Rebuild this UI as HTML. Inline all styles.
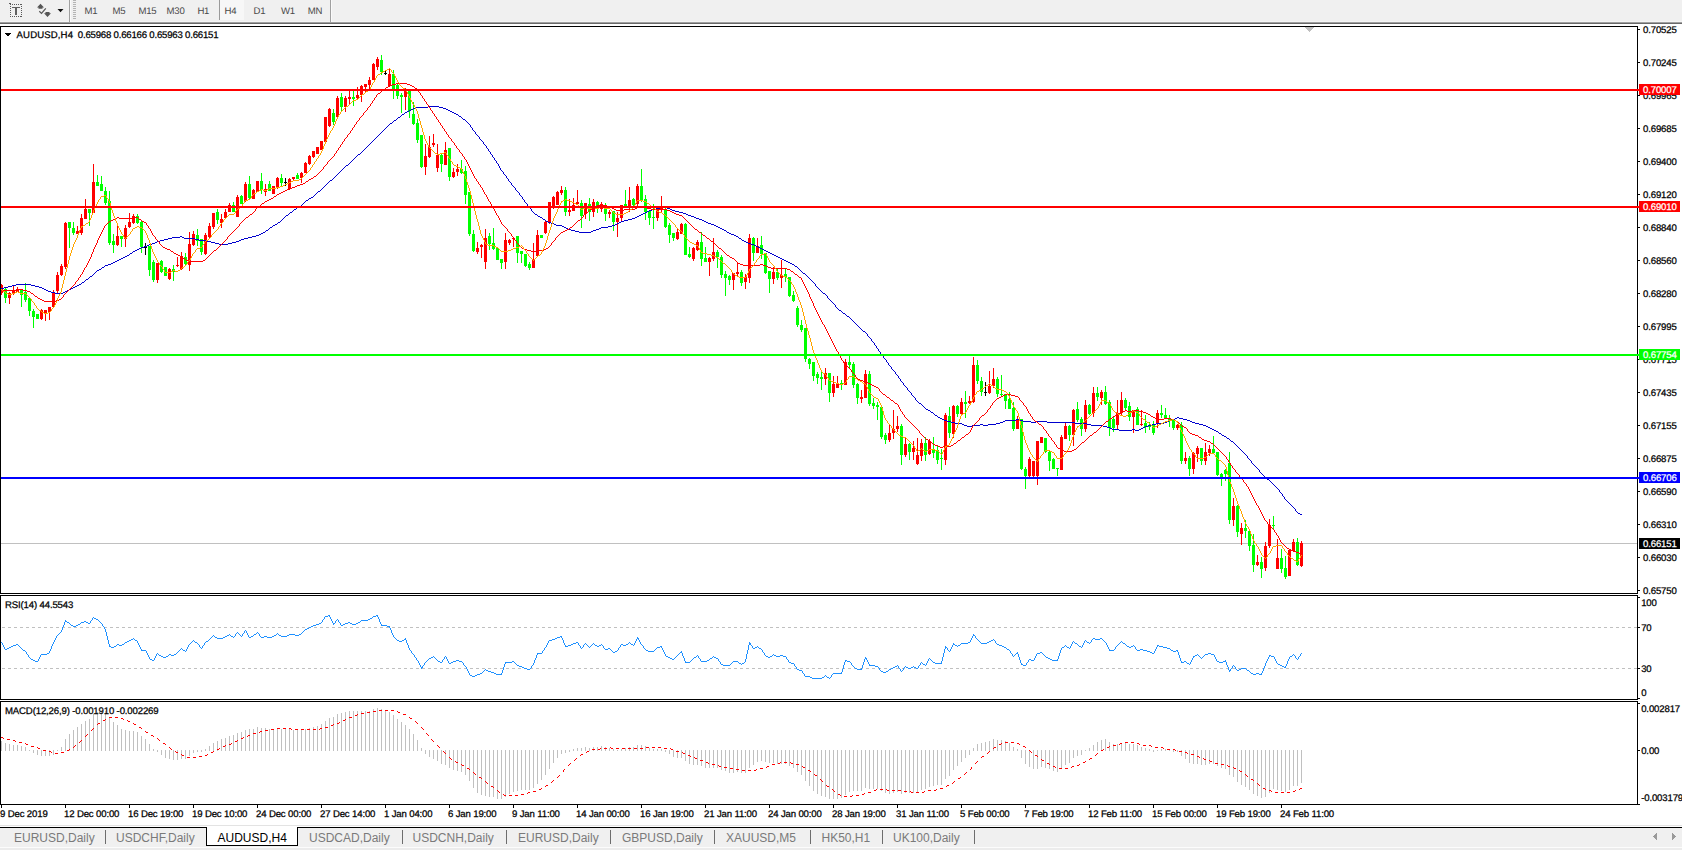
<!DOCTYPE html>
<html><head><meta charset="utf-8"><title>AUDUSD,H4</title>
<style>
html,body{margin:0;padding:0;background:#fff;overflow:hidden}
body{width:1682px;height:850px;position:relative;font-family:"Liberation Sans",sans-serif}
svg{position:absolute;left:0;top:0;font-family:"Liberation Sans",sans-serif}
svg rect,svg polygon{shape-rendering:crispEdges}
text.c{text-rendering:geometricPrecision;stroke-width:0.25px}
</style></head><body>
<svg width="1682" height="850" viewBox="0 0 1682 850">
<rect x="0" y="0" width="1682" height="850" fill="#fff"/>
<!-- toolbar -->
<rect x="0" y="0" width="1682" height="22" fill="#f0f0f0"/>
<rect x="0" y="21" width="1682" height="1" fill="#f5f5f5"/>
<rect x="0" y="22" width="1682" height="1" fill="#a0a0a0"/>
<rect x="0" y="23" width="1682" height="1" fill="#696969"/>
<rect x="220" y="0" width="24" height="20" fill="#f7f7f7"/>
<rect x="219" y="0" width="1" height="20" fill="#9a9a9a"/>
<rect x="69" y="0" width="1" height="22" fill="#a0a0a0"/><rect x="70" y="0" width="1" height="22" fill="#fafafa"/>
<rect x="330" y="0" width="1" height="22" fill="#a0a0a0"/><rect x="331" y="0" width="1" height="22" fill="#fafafa"/>
<g fill="#b4b4b4"><rect x="73" y="0" width="3" height="1"/><rect x="73" y="2" width="3" height="1"/><rect x="73" y="4" width="3" height="1"/><rect x="73" y="6" width="3" height="1"/><rect x="73" y="8" width="3" height="1"/><rect x="73" y="10" width="3" height="1"/><rect x="73" y="12" width="3" height="1"/><rect x="73" y="14" width="3" height="1"/><rect x="73" y="16" width="3" height="1"/><rect x="73" y="18" width="3" height="1"/></g>
<!-- T icon -->
<g fill="#5a5a5a"><rect x="10" y="4" width="1" height="1"/><rect x="10" y="16" width="1" height="1"/><rect x="12" y="4" width="1" height="1"/><rect x="12" y="16" width="1" height="1"/><rect x="14" y="4" width="1" height="1"/><rect x="14" y="16" width="1" height="1"/><rect x="16" y="4" width="1" height="1"/><rect x="16" y="16" width="1" height="1"/><rect x="18" y="4" width="1" height="1"/><rect x="18" y="16" width="1" height="1"/><rect x="20" y="4" width="1" height="1"/><rect x="20" y="16" width="1" height="1"/><rect x="21" y="4" width="1" height="1"/><rect x="21" y="16" width="1" height="1"/><rect x="10" y="6" width="1" height="1"/><rect x="21" y="6" width="1" height="1"/><rect x="10" y="8" width="1" height="1"/><rect x="21" y="8" width="1" height="1"/><rect x="10" y="10" width="1" height="1"/><rect x="21" y="10" width="1" height="1"/><rect x="10" y="12" width="1" height="1"/><rect x="21" y="12" width="1" height="1"/><rect x="10" y="14" width="1" height="1"/><rect x="21" y="14" width="1" height="1"/><rect x="9" y="3" width="2" height="1"/></g>
<rect x="12" y="7" width="8" height="1" fill="#606060"/><rect x="15" y="7" width="2" height="8" fill="#606060"/>
<!-- arrows icon -->
<polygon points="40.5,3.8 44,7.4 42.5,7.4 42.5,8.7 38.5,8.7 38.5,7.4 37,7.4" fill="#555" style="shape-rendering:auto"/>
<polygon points="47.5,16.9 51,13.2 49.5,13.2 49.5,12 45.5,12 45.5,13.2 44,13.2" fill="#555" style="shape-rendering:auto"/>
<polyline points="39.3,11.3 41.5,13.4 45.8,8.3" fill="none" stroke="#555" stroke-width="1.2"/>
<polygon points="57.5,9 63.5,9 60.5,12.2" fill="#111" style="shape-rendering:auto"/>
<text x="84.4" y="14" fill="#4a4a4a" font-size="9.6" letter-spacing="-0.25" style="text-rendering:geometricPrecision">M1</text>
<text x="112.4" y="14" fill="#4a4a4a" font-size="9.6" letter-spacing="-0.25" style="text-rendering:geometricPrecision">M5</text>
<text x="138.5" y="14" fill="#4a4a4a" font-size="9.6" letter-spacing="-0.25" style="text-rendering:geometricPrecision">M15</text>
<text x="166.6" y="14" fill="#4a4a4a" font-size="9.6" letter-spacing="-0.25" style="text-rendering:geometricPrecision">M30</text>
<text x="197.4" y="14" fill="#4a4a4a" font-size="9.6" letter-spacing="-0.25" style="text-rendering:geometricPrecision">H1</text>
<text x="224.5" y="14" fill="#4a4a4a" font-size="9.6" letter-spacing="-0.25" style="text-rendering:geometricPrecision">H4</text>
<text x="253.6" y="14" fill="#4a4a4a" font-size="9.6" letter-spacing="-0.25" style="text-rendering:geometricPrecision">D1</text>
<text x="281" y="14" fill="#4a4a4a" font-size="9.6" letter-spacing="-0.25" style="text-rendering:geometricPrecision">W1</text>
<text x="307.7" y="14" fill="#4a4a4a" font-size="9.6" letter-spacing="-0.25" style="text-rendering:geometricPrecision">MN</text>
<!-- chart -->
<rect x="1" y="543" width="1636" height="1" fill="#c0c0c0"/>
<g><rect x="1" y="284" width="1" height="11" fill="#ff0000"/><rect x="0" y="285" width="3" height="8" fill="#ff0000"/><rect x="5" y="288" width="1" height="15" fill="#00ff00"/><rect x="4" y="289" width="3" height="9" fill="#00ff00"/><rect x="9" y="292" width="1" height="12" fill="#ff0000"/><rect x="8" y="293" width="3" height="5" fill="#ff0000"/><rect x="13" y="285" width="1" height="10" fill="#ff0000"/><rect x="12" y="290" width="3" height="3" fill="#ff0000"/><rect x="17" y="287" width="1" height="5" fill="#ff0000"/><rect x="16" y="289" width="3" height="3" fill="#ff0000"/><rect x="21" y="289" width="1" height="18" fill="#00ff00"/><rect x="20" y="289" width="3" height="6" fill="#00ff00"/><rect x="25" y="283" width="1" height="19" fill="#00ff00"/><rect x="24" y="292" width="3" height="8" fill="#00ff00"/><rect x="29" y="297" width="1" height="19" fill="#00ff00"/><rect x="28" y="298" width="3" height="13" fill="#00ff00"/><rect x="33" y="309" width="1" height="19" fill="#00ff00"/><rect x="32" y="311" width="3" height="6" fill="#00ff00"/><rect x="37" y="314" width="1" height="5" fill="#00ff00"/><rect x="36" y="314" width="3" height="5" fill="#00ff00"/><rect x="41" y="309" width="1" height="11" fill="#ff0000"/><rect x="40" y="310" width="3" height="9" fill="#ff0000"/><rect x="45" y="310" width="1" height="11" fill="#ff0000"/><rect x="44" y="310" width="3" height="3" fill="#ff0000"/><rect x="49" y="307" width="1" height="13" fill="#ff0000"/><rect x="48" y="307" width="3" height="5" fill="#ff0000"/><rect x="53" y="290" width="1" height="17" fill="#ff0000"/><rect x="52" y="292" width="3" height="15" fill="#ff0000"/><rect x="57" y="272" width="1" height="21" fill="#ff0000"/><rect x="56" y="275" width="3" height="16" fill="#ff0000"/><rect x="61" y="264" width="1" height="12" fill="#ff0000"/><rect x="60" y="266" width="3" height="9" fill="#ff0000"/><rect x="65" y="222" width="1" height="47" fill="#ff0000"/><rect x="64" y="223" width="3" height="44" fill="#ff0000"/><rect x="69" y="222" width="1" height="26" fill="#00ff00"/><rect x="68" y="222" width="3" height="6" fill="#00ff00"/><rect x="73" y="222" width="1" height="13" fill="#00ff00"/><rect x="72" y="228" width="3" height="5" fill="#00ff00"/><rect x="77" y="226" width="1" height="8" fill="#ff0000"/><rect x="76" y="231" width="3" height="3" fill="#ff0000"/><rect x="81" y="214" width="1" height="21" fill="#ff0000"/><rect x="80" y="218" width="3" height="15" fill="#ff0000"/><rect x="85" y="199" width="1" height="20" fill="#ff0000"/><rect x="84" y="209" width="3" height="10" fill="#ff0000"/><rect x="89" y="209" width="1" height="17" fill="#00ff00"/><rect x="88" y="209" width="3" height="4" fill="#00ff00"/><rect x="93" y="164" width="1" height="49" fill="#ff0000"/><rect x="92" y="182" width="3" height="31" fill="#ff0000"/><rect x="97" y="175" width="1" height="11" fill="#00ff00"/><rect x="96" y="182" width="3" height="4" fill="#00ff00"/><rect x="101" y="176" width="1" height="15" fill="#00ff00"/><rect x="100" y="184" width="3" height="7" fill="#00ff00"/><rect x="105" y="187" width="1" height="18" fill="#00ff00"/><rect x="104" y="191" width="3" height="12" fill="#00ff00"/><rect x="109" y="191" width="1" height="54" fill="#00ff00"/><rect x="108" y="201" width="3" height="42" fill="#00ff00"/><rect x="113" y="234" width="1" height="19" fill="#00ff00"/><rect x="112" y="241" width="3" height="4" fill="#00ff00"/><rect x="117" y="226" width="1" height="20" fill="#ff0000"/><rect x="116" y="236" width="3" height="9" fill="#ff0000"/><rect x="121" y="236" width="1" height="11" fill="#00ff00"/><rect x="120" y="236" width="3" height="3" fill="#00ff00"/><rect x="125" y="225" width="1" height="22" fill="#ff0000"/><rect x="124" y="228" width="3" height="11" fill="#ff0000"/><rect x="129" y="213" width="1" height="15" fill="#ff0000"/><rect x="128" y="222" width="3" height="5" fill="#ff0000"/><rect x="133" y="214" width="1" height="10" fill="#ff0000"/><rect x="132" y="216" width="3" height="7" fill="#ff0000"/><rect x="137" y="214" width="1" height="10" fill="#00ff00"/><rect x="136" y="216" width="3" height="7" fill="#00ff00"/><rect x="141" y="220" width="1" height="33" fill="#00ff00"/><rect x="140" y="222" width="3" height="25" fill="#00ff00"/><rect x="145" y="243" width="1" height="12" fill="#000"/><rect x="144" y="247" width="3" height="1" fill="#000"/><rect x="149" y="246" width="1" height="30" fill="#00ff00"/><rect x="148" y="246" width="3" height="24" fill="#00ff00"/><rect x="153" y="260" width="1" height="22" fill="#00ff00"/><rect x="152" y="262" width="3" height="18" fill="#00ff00"/><rect x="157" y="263" width="1" height="20" fill="#ff0000"/><rect x="156" y="263" width="3" height="17" fill="#ff0000"/><rect x="161" y="260" width="1" height="13" fill="#00ff00"/><rect x="160" y="261" width="3" height="11" fill="#00ff00"/><rect x="165" y="267" width="1" height="9" fill="#00ff00"/><rect x="164" y="267" width="3" height="9" fill="#00ff00"/><rect x="169" y="268" width="1" height="12" fill="#ff0000"/><rect x="168" y="269" width="3" height="10" fill="#ff0000"/><rect x="173" y="265" width="1" height="16" fill="#00ff00"/><rect x="172" y="269" width="3" height="3" fill="#00ff00"/><rect x="177" y="257" width="1" height="10" fill="#ff0000"/><rect x="176" y="265" width="3" height="1" fill="#ff0000"/><rect x="181" y="252" width="1" height="18" fill="#ff0000"/><rect x="180" y="256" width="3" height="13" fill="#ff0000"/><rect x="185" y="253" width="1" height="13" fill="#00ff00"/><rect x="184" y="257" width="3" height="7" fill="#00ff00"/><rect x="189" y="232" width="1" height="39" fill="#ff0000"/><rect x="188" y="244" width="3" height="21" fill="#ff0000"/><rect x="193" y="231" width="1" height="15" fill="#ff0000"/><rect x="192" y="234" width="3" height="11" fill="#ff0000"/><rect x="197" y="229" width="1" height="17" fill="#00ff00"/><rect x="196" y="235" width="3" height="6" fill="#00ff00"/><rect x="201" y="239" width="1" height="16" fill="#00ff00"/><rect x="200" y="239" width="3" height="13" fill="#00ff00"/><rect x="205" y="233" width="1" height="22" fill="#ff0000"/><rect x="204" y="235" width="3" height="19" fill="#ff0000"/><rect x="209" y="223" width="1" height="15" fill="#ff0000"/><rect x="208" y="226" width="3" height="11" fill="#ff0000"/><rect x="213" y="213" width="1" height="16" fill="#ff0000"/><rect x="212" y="213" width="3" height="14" fill="#ff0000"/><rect x="217" y="209" width="1" height="15" fill="#00ff00"/><rect x="216" y="212" width="3" height="8" fill="#00ff00"/><rect x="221" y="214" width="1" height="14" fill="#ff0000"/><rect x="220" y="219" width="3" height="4" fill="#ff0000"/><rect x="225" y="209" width="1" height="10" fill="#ff0000"/><rect x="224" y="212" width="3" height="6" fill="#ff0000"/><rect x="229" y="203" width="1" height="9" fill="#ff0000"/><rect x="228" y="205" width="3" height="7" fill="#ff0000"/><rect x="233" y="202" width="1" height="10" fill="#00ff00"/><rect x="232" y="205" width="3" height="7" fill="#00ff00"/><rect x="237" y="195" width="1" height="22" fill="#ff0000"/><rect x="236" y="197" width="3" height="20" fill="#ff0000"/><rect x="241" y="195" width="1" height="9" fill="#00ff00"/><rect x="240" y="196" width="3" height="8" fill="#00ff00"/><rect x="245" y="182" width="1" height="20" fill="#ff0000"/><rect x="244" y="184" width="3" height="17" fill="#ff0000"/><rect x="249" y="176" width="1" height="24" fill="#00ff00"/><rect x="248" y="184" width="3" height="14" fill="#00ff00"/><rect x="253" y="189" width="1" height="10" fill="#ff0000"/><rect x="252" y="190" width="3" height="9" fill="#ff0000"/><rect x="257" y="181" width="1" height="11" fill="#ff0000"/><rect x="256" y="181" width="3" height="11" fill="#ff0000"/><rect x="261" y="173" width="1" height="21" fill="#00ff00"/><rect x="260" y="181" width="3" height="9" fill="#00ff00"/><rect x="265" y="184" width="1" height="12" fill="#ff0000"/><rect x="264" y="189" width="3" height="3" fill="#ff0000"/><rect x="269" y="181" width="1" height="10" fill="#00ff00"/><rect x="268" y="184" width="3" height="7" fill="#00ff00"/><rect x="273" y="186" width="1" height="8" fill="#ff0000"/><rect x="272" y="186" width="3" height="8" fill="#ff0000"/><rect x="277" y="177" width="1" height="12" fill="#ff0000"/><rect x="276" y="178" width="3" height="10" fill="#ff0000"/><rect x="281" y="174" width="1" height="12" fill="#00ff00"/><rect x="280" y="178" width="3" height="5" fill="#00ff00"/><rect x="285" y="178" width="1" height="8" fill="#000"/><rect x="284" y="182" width="3" height="1" fill="#000"/><rect x="289" y="178" width="1" height="12" fill="#ff0000"/><rect x="288" y="179" width="3" height="10" fill="#ff0000"/><rect x="293" y="177" width="1" height="4" fill="#ff0000"/><rect x="292" y="177" width="3" height="2" fill="#ff0000"/><rect x="297" y="173" width="1" height="6" fill="#00ff00"/><rect x="296" y="175" width="3" height="4" fill="#00ff00"/><rect x="301" y="172" width="1" height="11" fill="#ff0000"/><rect x="300" y="173" width="3" height="5" fill="#ff0000"/><rect x="305" y="162" width="1" height="11" fill="#ff0000"/><rect x="304" y="163" width="3" height="10" fill="#ff0000"/><rect x="309" y="155" width="1" height="10" fill="#ff0000"/><rect x="308" y="156" width="3" height="8" fill="#ff0000"/><rect x="313" y="151" width="1" height="7" fill="#ff0000"/><rect x="312" y="151" width="3" height="6" fill="#ff0000"/><rect x="317" y="147" width="1" height="7" fill="#ff0000"/><rect x="316" y="147" width="3" height="7" fill="#ff0000"/><rect x="321" y="141" width="1" height="9" fill="#ff0000"/><rect x="320" y="141" width="3" height="9" fill="#ff0000"/><rect x="325" y="117" width="1" height="25" fill="#ff0000"/><rect x="324" y="117" width="3" height="25" fill="#ff0000"/><rect x="329" y="108" width="1" height="19" fill="#ff0000"/><rect x="328" y="109" width="3" height="17" fill="#ff0000"/><rect x="333" y="109" width="1" height="16" fill="#00ff00"/><rect x="332" y="113" width="3" height="9" fill="#00ff00"/><rect x="337" y="96" width="1" height="22" fill="#ff0000"/><rect x="336" y="98" width="3" height="19" fill="#ff0000"/><rect x="341" y="93" width="1" height="19" fill="#00ff00"/><rect x="340" y="97" width="3" height="10" fill="#00ff00"/><rect x="345" y="96" width="1" height="16" fill="#ff0000"/><rect x="344" y="98" width="3" height="9" fill="#ff0000"/><rect x="349" y="90" width="1" height="14" fill="#ff0000"/><rect x="348" y="97" width="3" height="2" fill="#ff0000"/><rect x="353" y="91" width="1" height="15" fill="#00ff00"/><rect x="352" y="97" width="3" height="2" fill="#00ff00"/><rect x="357" y="87" width="1" height="13" fill="#ff0000"/><rect x="356" y="95" width="3" height="3" fill="#ff0000"/><rect x="361" y="85" width="1" height="17" fill="#ff0000"/><rect x="360" y="86" width="3" height="9" fill="#ff0000"/><rect x="365" y="84" width="1" height="8" fill="#ff0000"/><rect x="364" y="84" width="3" height="3" fill="#ff0000"/><rect x="369" y="77" width="1" height="12" fill="#ff0000"/><rect x="368" y="80" width="3" height="5" fill="#ff0000"/><rect x="373" y="63" width="1" height="17" fill="#ff0000"/><rect x="372" y="64" width="3" height="16" fill="#ff0000"/><rect x="377" y="57" width="1" height="13" fill="#ff0000"/><rect x="376" y="59" width="3" height="8" fill="#ff0000"/><rect x="381" y="55" width="1" height="20" fill="#00ff00"/><rect x="380" y="60" width="3" height="12" fill="#00ff00"/><rect x="385" y="70" width="1" height="5" fill="#000"/><rect x="384" y="73" width="3" height="1" fill="#000"/><rect x="389" y="69" width="1" height="18" fill="#ff0000"/><rect x="388" y="74" width="3" height="12" fill="#ff0000"/><rect x="393" y="70" width="1" height="29" fill="#00ff00"/><rect x="392" y="74" width="3" height="15" fill="#00ff00"/><rect x="397" y="84" width="1" height="15" fill="#00ff00"/><rect x="396" y="85" width="3" height="11" fill="#00ff00"/><rect x="401" y="93" width="1" height="20" fill="#00ff00"/><rect x="400" y="95" width="3" height="2" fill="#00ff00"/><rect x="405" y="88" width="1" height="22" fill="#ff0000"/><rect x="404" y="90" width="3" height="7" fill="#ff0000"/><rect x="409" y="89" width="1" height="29" fill="#00ff00"/><rect x="408" y="91" width="3" height="20" fill="#00ff00"/><rect x="413" y="102" width="1" height="23" fill="#00ff00"/><rect x="412" y="114" width="3" height="10" fill="#00ff00"/><rect x="417" y="119" width="1" height="24" fill="#00ff00"/><rect x="416" y="123" width="3" height="17" fill="#00ff00"/><rect x="421" y="135" width="1" height="33" fill="#00ff00"/><rect x="420" y="135" width="3" height="32" fill="#00ff00"/><rect x="425" y="144" width="1" height="31" fill="#ff0000"/><rect x="424" y="156" width="3" height="11" fill="#ff0000"/><rect x="429" y="136" width="1" height="22" fill="#ff0000"/><rect x="428" y="147" width="3" height="10" fill="#ff0000"/><rect x="433" y="134" width="1" height="13" fill="#ff0000"/><rect x="432" y="143" width="3" height="2" fill="#ff0000"/><rect x="437" y="144" width="1" height="28" fill="#ff0000"/><rect x="436" y="155" width="3" height="13" fill="#ff0000"/><rect x="441" y="153" width="1" height="19" fill="#00ff00"/><rect x="440" y="155" width="3" height="9" fill="#00ff00"/><rect x="445" y="142" width="1" height="23" fill="#ff0000"/><rect x="444" y="150" width="3" height="15" fill="#ff0000"/><rect x="449" y="148" width="1" height="33" fill="#00ff00"/><rect x="448" y="148" width="3" height="29" fill="#00ff00"/><rect x="453" y="168" width="1" height="10" fill="#ff0000"/><rect x="452" y="172" width="3" height="5" fill="#ff0000"/><rect x="457" y="164" width="1" height="12" fill="#ff0000"/><rect x="456" y="169" width="3" height="3" fill="#ff0000"/><rect x="461" y="160" width="1" height="14" fill="#00ff00"/><rect x="460" y="169" width="3" height="4" fill="#00ff00"/><rect x="465" y="166" width="1" height="38" fill="#00ff00"/><rect x="464" y="171" width="3" height="24" fill="#00ff00"/><rect x="469" y="192" width="1" height="44" fill="#00ff00"/><rect x="468" y="192" width="3" height="42" fill="#00ff00"/><rect x="473" y="230" width="1" height="22" fill="#00ff00"/><rect x="472" y="234" width="3" height="17" fill="#00ff00"/><rect x="477" y="242" width="1" height="12" fill="#ff0000"/><rect x="476" y="248" width="3" height="4" fill="#ff0000"/><rect x="481" y="244" width="1" height="14" fill="#ff0000"/><rect x="480" y="245" width="3" height="2" fill="#ff0000"/><rect x="485" y="229" width="1" height="40" fill="#ff0000"/><rect x="484" y="238" width="3" height="24" fill="#ff0000"/><rect x="489" y="233" width="1" height="17" fill="#00ff00"/><rect x="488" y="236" width="3" height="8" fill="#00ff00"/><rect x="493" y="228" width="1" height="22" fill="#00ff00"/><rect x="492" y="243" width="3" height="6" fill="#00ff00"/><rect x="497" y="247" width="1" height="13" fill="#00ff00"/><rect x="496" y="248" width="3" height="12" fill="#00ff00"/><rect x="501" y="259" width="1" height="10" fill="#00ff00"/><rect x="500" y="259" width="3" height="4" fill="#00ff00"/><rect x="505" y="233" width="1" height="36" fill="#ff0000"/><rect x="504" y="240" width="3" height="22" fill="#ff0000"/><rect x="509" y="239" width="1" height="6" fill="#ff0000"/><rect x="508" y="240" width="3" height="3" fill="#ff0000"/><rect x="513" y="237" width="1" height="10" fill="#ff0000"/><rect x="512" y="238" width="3" height="1" fill="#ff0000"/><rect x="517" y="236" width="1" height="27" fill="#00ff00"/><rect x="516" y="236" width="3" height="17" fill="#00ff00"/><rect x="521" y="251" width="1" height="12" fill="#00ff00"/><rect x="520" y="251" width="3" height="3" fill="#00ff00"/><rect x="525" y="254" width="1" height="13" fill="#00ff00"/><rect x="524" y="254" width="3" height="12" fill="#00ff00"/><rect x="529" y="262" width="1" height="8" fill="#00ff00"/><rect x="528" y="264" width="3" height="4" fill="#00ff00"/><rect x="533" y="243" width="1" height="25" fill="#ff0000"/><rect x="532" y="259" width="3" height="9" fill="#ff0000"/><rect x="537" y="230" width="1" height="26" fill="#ff0000"/><rect x="536" y="235" width="3" height="21" fill="#ff0000"/><rect x="541" y="235" width="1" height="3" fill="#00ff00"/><rect x="540" y="235" width="3" height="3" fill="#00ff00"/><rect x="545" y="221" width="1" height="13" fill="#ff0000"/><rect x="544" y="222" width="3" height="11" fill="#ff0000"/><rect x="549" y="202" width="1" height="22" fill="#ff0000"/><rect x="548" y="202" width="3" height="20" fill="#ff0000"/><rect x="553" y="196" width="1" height="13" fill="#ff0000"/><rect x="552" y="197" width="3" height="11" fill="#ff0000"/><rect x="557" y="191" width="1" height="14" fill="#ff0000"/><rect x="556" y="192" width="3" height="13" fill="#ff0000"/><rect x="561" y="186" width="1" height="9" fill="#ff0000"/><rect x="560" y="190" width="3" height="3" fill="#ff0000"/><rect x="565" y="187" width="1" height="29" fill="#00ff00"/><rect x="564" y="190" width="3" height="22" fill="#00ff00"/><rect x="569" y="199" width="1" height="17" fill="#ff0000"/><rect x="568" y="210" width="3" height="2" fill="#ff0000"/><rect x="573" y="198" width="1" height="13" fill="#ff0000"/><rect x="572" y="205" width="3" height="6" fill="#ff0000"/><rect x="577" y="190" width="1" height="14" fill="#ff0000"/><rect x="576" y="202" width="3" height="2" fill="#ff0000"/><rect x="581" y="200" width="1" height="28" fill="#00ff00"/><rect x="580" y="203" width="3" height="13" fill="#00ff00"/><rect x="585" y="203" width="1" height="16" fill="#ff0000"/><rect x="584" y="203" width="3" height="11" fill="#ff0000"/><rect x="589" y="198" width="1" height="23" fill="#00ff00"/><rect x="588" y="204" width="3" height="8" fill="#00ff00"/><rect x="593" y="199" width="1" height="18" fill="#ff0000"/><rect x="592" y="202" width="3" height="10" fill="#ff0000"/><rect x="597" y="201" width="1" height="12" fill="#00ff00"/><rect x="596" y="202" width="3" height="7" fill="#00ff00"/><rect x="601" y="202" width="1" height="10" fill="#ff0000"/><rect x="600" y="204" width="3" height="5" fill="#ff0000"/><rect x="605" y="203" width="1" height="18" fill="#00ff00"/><rect x="604" y="205" width="3" height="9" fill="#00ff00"/><rect x="609" y="210" width="1" height="8" fill="#ff0000"/><rect x="608" y="212" width="3" height="2" fill="#ff0000"/><rect x="613" y="211" width="1" height="20" fill="#00ff00"/><rect x="612" y="211" width="3" height="11" fill="#00ff00"/><rect x="617" y="212" width="1" height="25" fill="#ff0000"/><rect x="616" y="218" width="3" height="4" fill="#ff0000"/><rect x="621" y="205" width="1" height="16" fill="#ff0000"/><rect x="620" y="205" width="3" height="13" fill="#ff0000"/><rect x="625" y="190" width="1" height="18" fill="#00ff00"/><rect x="624" y="204" width="3" height="2" fill="#00ff00"/><rect x="629" y="187" width="1" height="25" fill="#ff0000"/><rect x="628" y="200" width="3" height="7" fill="#ff0000"/><rect x="633" y="198" width="1" height="8" fill="#00ff00"/><rect x="632" y="199" width="3" height="6" fill="#00ff00"/><rect x="637" y="184" width="1" height="22" fill="#ff0000"/><rect x="636" y="186" width="3" height="18" fill="#ff0000"/><rect x="641" y="169" width="1" height="33" fill="#00ff00"/><rect x="640" y="186" width="3" height="15" fill="#00ff00"/><rect x="645" y="195" width="1" height="25" fill="#00ff00"/><rect x="644" y="199" width="3" height="13" fill="#00ff00"/><rect x="649" y="211" width="1" height="14" fill="#00ff00"/><rect x="648" y="211" width="3" height="7" fill="#00ff00"/><rect x="653" y="204" width="1" height="25" fill="#00ff00"/><rect x="652" y="217" width="3" height="1" fill="#00ff00"/><rect x="657" y="206" width="1" height="15" fill="#ff0000"/><rect x="656" y="208" width="3" height="10" fill="#ff0000"/><rect x="661" y="196" width="1" height="16" fill="#ff0000"/><rect x="660" y="207" width="3" height="3" fill="#ff0000"/><rect x="665" y="208" width="1" height="20" fill="#00ff00"/><rect x="664" y="209" width="3" height="18" fill="#00ff00"/><rect x="669" y="223" width="1" height="20" fill="#00ff00"/><rect x="668" y="225" width="3" height="10" fill="#00ff00"/><rect x="673" y="233" width="1" height="8" fill="#00ff00"/><rect x="672" y="233" width="3" height="5" fill="#00ff00"/><rect x="677" y="228" width="1" height="12" fill="#ff0000"/><rect x="676" y="232" width="3" height="7" fill="#ff0000"/><rect x="681" y="223" width="1" height="11" fill="#ff0000"/><rect x="680" y="224" width="3" height="10" fill="#ff0000"/><rect x="685" y="223" width="1" height="32" fill="#00ff00"/><rect x="684" y="224" width="3" height="31" fill="#00ff00"/><rect x="689" y="247" width="1" height="11" fill="#00ff00"/><rect x="688" y="254" width="3" height="3" fill="#00ff00"/><rect x="693" y="247" width="1" height="14" fill="#ff0000"/><rect x="692" y="248" width="3" height="11" fill="#ff0000"/><rect x="697" y="240" width="1" height="11" fill="#ff0000"/><rect x="696" y="242" width="3" height="8" fill="#ff0000"/><rect x="701" y="232" width="1" height="34" fill="#00ff00"/><rect x="700" y="242" width="3" height="17" fill="#00ff00"/><rect x="705" y="247" width="1" height="15" fill="#00ff00"/><rect x="704" y="258" width="3" height="4" fill="#00ff00"/><rect x="709" y="257" width="1" height="19" fill="#ff0000"/><rect x="708" y="258" width="3" height="4" fill="#ff0000"/><rect x="713" y="238" width="1" height="23" fill="#ff0000"/><rect x="712" y="252" width="3" height="7" fill="#ff0000"/><rect x="717" y="250" width="1" height="18" fill="#00ff00"/><rect x="716" y="252" width="3" height="5" fill="#00ff00"/><rect x="721" y="255" width="1" height="23" fill="#00ff00"/><rect x="720" y="257" width="3" height="18" fill="#00ff00"/><rect x="725" y="271" width="1" height="25" fill="#00ff00"/><rect x="724" y="274" width="3" height="4" fill="#00ff00"/><rect x="729" y="275" width="1" height="10" fill="#00ff00"/><rect x="728" y="276" width="3" height="4" fill="#00ff00"/><rect x="733" y="273" width="1" height="17" fill="#ff0000"/><rect x="732" y="273" width="3" height="7" fill="#ff0000"/><rect x="737" y="262" width="1" height="15" fill="#ff0000"/><rect x="736" y="272" width="3" height="2" fill="#ff0000"/><rect x="741" y="270" width="1" height="16" fill="#00ff00"/><rect x="740" y="272" width="3" height="11" fill="#00ff00"/><rect x="745" y="274" width="1" height="15" fill="#ff0000"/><rect x="744" y="277" width="3" height="5" fill="#ff0000"/><rect x="749" y="234" width="1" height="49" fill="#ff0000"/><rect x="748" y="238" width="3" height="40" fill="#ff0000"/><rect x="753" y="237" width="1" height="24" fill="#00ff00"/><rect x="752" y="238" width="3" height="15" fill="#00ff00"/><rect x="757" y="238" width="1" height="15" fill="#ff0000"/><rect x="756" y="246" width="3" height="7" fill="#ff0000"/><rect x="761" y="236" width="1" height="23" fill="#00ff00"/><rect x="760" y="245" width="3" height="9" fill="#00ff00"/><rect x="765" y="253" width="1" height="21" fill="#00ff00"/><rect x="764" y="253" width="3" height="20" fill="#00ff00"/><rect x="769" y="271" width="1" height="22" fill="#00ff00"/><rect x="768" y="271" width="3" height="8" fill="#00ff00"/><rect x="773" y="267" width="1" height="17" fill="#ff0000"/><rect x="772" y="272" width="3" height="7" fill="#ff0000"/><rect x="777" y="269" width="1" height="11" fill="#00ff00"/><rect x="776" y="272" width="3" height="6" fill="#00ff00"/><rect x="781" y="260" width="1" height="28" fill="#ff0000"/><rect x="780" y="275" width="3" height="3" fill="#ff0000"/><rect x="785" y="268" width="1" height="14" fill="#00ff00"/><rect x="784" y="274" width="3" height="3" fill="#00ff00"/><rect x="789" y="277" width="1" height="20" fill="#00ff00"/><rect x="788" y="277" width="3" height="19" fill="#00ff00"/><rect x="793" y="291" width="1" height="11" fill="#00ff00"/><rect x="792" y="295" width="3" height="6" fill="#00ff00"/><rect x="797" y="306" width="1" height="21" fill="#00ff00"/><rect x="796" y="308" width="3" height="17" fill="#00ff00"/><rect x="801" y="320" width="1" height="12" fill="#00ff00"/><rect x="800" y="325" width="3" height="5" fill="#00ff00"/><rect x="805" y="328" width="1" height="34" fill="#00ff00"/><rect x="804" y="328" width="3" height="31" fill="#00ff00"/><rect x="809" y="358" width="1" height="11" fill="#00ff00"/><rect x="808" y="359" width="3" height="5" fill="#00ff00"/><rect x="813" y="362" width="1" height="19" fill="#00ff00"/><rect x="812" y="362" width="3" height="14" fill="#00ff00"/><rect x="817" y="372" width="1" height="12" fill="#00ff00"/><rect x="816" y="374" width="3" height="4" fill="#00ff00"/><rect x="821" y="371" width="1" height="19" fill="#00ff00"/><rect x="820" y="377" width="3" height="2" fill="#00ff00"/><rect x="825" y="368" width="1" height="17" fill="#ff0000"/><rect x="824" y="373" width="3" height="6" fill="#ff0000"/><rect x="829" y="373" width="1" height="29" fill="#00ff00"/><rect x="828" y="373" width="3" height="20" fill="#00ff00"/><rect x="833" y="376" width="1" height="21" fill="#ff0000"/><rect x="832" y="384" width="3" height="9" fill="#ff0000"/><rect x="837" y="376" width="1" height="12" fill="#ff0000"/><rect x="836" y="384" width="3" height="4" fill="#ff0000"/><rect x="841" y="380" width="1" height="10" fill="#00ff00"/><rect x="840" y="383" width="3" height="2" fill="#00ff00"/><rect x="845" y="359" width="1" height="26" fill="#ff0000"/><rect x="844" y="362" width="3" height="23" fill="#ff0000"/><rect x="849" y="356" width="1" height="12" fill="#00ff00"/><rect x="848" y="362" width="3" height="3" fill="#00ff00"/><rect x="853" y="362" width="1" height="26" fill="#00ff00"/><rect x="852" y="364" width="3" height="21" fill="#00ff00"/><rect x="857" y="383" width="1" height="21" fill="#00ff00"/><rect x="856" y="384" width="3" height="14" fill="#00ff00"/><rect x="861" y="390" width="1" height="13" fill="#ff0000"/><rect x="860" y="397" width="3" height="2" fill="#ff0000"/><rect x="865" y="370" width="1" height="28" fill="#ff0000"/><rect x="864" y="374" width="3" height="24" fill="#ff0000"/><rect x="869" y="371" width="1" height="35" fill="#00ff00"/><rect x="868" y="374" width="3" height="30" fill="#00ff00"/><rect x="873" y="398" width="1" height="11" fill="#00ff00"/><rect x="872" y="403" width="3" height="3" fill="#00ff00"/><rect x="877" y="402" width="1" height="18" fill="#00ff00"/><rect x="876" y="405" width="3" height="2" fill="#00ff00"/><rect x="881" y="406" width="1" height="33" fill="#00ff00"/><rect x="880" y="407" width="3" height="30" fill="#00ff00"/><rect x="885" y="433" width="1" height="11" fill="#00ff00"/><rect x="884" y="435" width="3" height="5" fill="#00ff00"/><rect x="889" y="425" width="1" height="17" fill="#ff0000"/><rect x="888" y="433" width="3" height="7" fill="#ff0000"/><rect x="893" y="410" width="1" height="29" fill="#ff0000"/><rect x="892" y="429" width="3" height="4" fill="#ff0000"/><rect x="897" y="416" width="1" height="16" fill="#ff0000"/><rect x="896" y="426" width="3" height="3" fill="#ff0000"/><rect x="901" y="424" width="1" height="41" fill="#00ff00"/><rect x="900" y="426" width="3" height="29" fill="#00ff00"/><rect x="905" y="438" width="1" height="19" fill="#ff0000"/><rect x="904" y="444" width="3" height="11" fill="#ff0000"/><rect x="909" y="443" width="1" height="17" fill="#00ff00"/><rect x="908" y="444" width="3" height="8" fill="#00ff00"/><rect x="913" y="441" width="1" height="19" fill="#ff0000"/><rect x="912" y="448" width="3" height="4" fill="#ff0000"/><rect x="917" y="438" width="1" height="27" fill="#ff0000"/><rect x="916" y="455" width="3" height="9" fill="#ff0000"/><rect x="921" y="439" width="1" height="22" fill="#ff0000"/><rect x="920" y="443" width="3" height="13" fill="#ff0000"/><rect x="925" y="437" width="1" height="24" fill="#00ff00"/><rect x="924" y="443" width="3" height="12" fill="#00ff00"/><rect x="929" y="439" width="1" height="16" fill="#ff0000"/><rect x="928" y="441" width="3" height="13" fill="#ff0000"/><rect x="933" y="437" width="1" height="21" fill="#00ff00"/><rect x="932" y="449" width="3" height="4" fill="#00ff00"/><rect x="937" y="446" width="1" height="18" fill="#00ff00"/><rect x="936" y="450" width="3" height="10" fill="#00ff00"/><rect x="941" y="449" width="1" height="21" fill="#00ff00"/><rect x="940" y="458" width="3" height="1" fill="#00ff00"/><rect x="945" y="413" width="1" height="52" fill="#ff0000"/><rect x="944" y="415" width="3" height="45" fill="#ff0000"/><rect x="949" y="407" width="1" height="31" fill="#00ff00"/><rect x="948" y="416" width="3" height="17" fill="#00ff00"/><rect x="953" y="405" width="1" height="33" fill="#ff0000"/><rect x="952" y="406" width="3" height="28" fill="#ff0000"/><rect x="957" y="405" width="1" height="12" fill="#00ff00"/><rect x="956" y="406" width="3" height="8" fill="#00ff00"/><rect x="961" y="398" width="1" height="18" fill="#ff0000"/><rect x="960" y="402" width="3" height="12" fill="#ff0000"/><rect x="965" y="391" width="1" height="27" fill="#00ff00"/><rect x="964" y="402" width="3" height="2" fill="#00ff00"/><rect x="969" y="396" width="1" height="8" fill="#ff0000"/><rect x="968" y="401" width="3" height="2" fill="#ff0000"/><rect x="973" y="357" width="1" height="46" fill="#ff0000"/><rect x="972" y="365" width="3" height="37" fill="#ff0000"/><rect x="977" y="360" width="1" height="24" fill="#00ff00"/><rect x="976" y="365" width="3" height="16" fill="#00ff00"/><rect x="981" y="377" width="1" height="19" fill="#00ff00"/><rect x="980" y="381" width="3" height="11" fill="#00ff00"/><rect x="985" y="382" width="1" height="14" fill="#000"/><rect x="984" y="392" width="3" height="1" fill="#000"/><rect x="989" y="371" width="1" height="23" fill="#ff0000"/><rect x="988" y="386" width="3" height="7" fill="#ff0000"/><rect x="993" y="368" width="1" height="20" fill="#ff0000"/><rect x="992" y="379" width="3" height="7" fill="#ff0000"/><rect x="997" y="377" width="1" height="20" fill="#00ff00"/><rect x="996" y="379" width="3" height="15" fill="#00ff00"/><rect x="1001" y="375" width="1" height="21" fill="#00ff00"/><rect x="1000" y="394" width="3" height="1" fill="#00ff00"/><rect x="1005" y="394" width="1" height="15" fill="#00ff00"/><rect x="1004" y="394" width="3" height="7" fill="#00ff00"/><rect x="1009" y="392" width="1" height="17" fill="#00ff00"/><rect x="1008" y="399" width="3" height="10" fill="#00ff00"/><rect x="1013" y="402" width="1" height="29" fill="#00ff00"/><rect x="1012" y="408" width="3" height="21" fill="#00ff00"/><rect x="1017" y="416" width="1" height="13" fill="#ff0000"/><rect x="1016" y="420" width="3" height="9" fill="#ff0000"/><rect x="1021" y="419" width="1" height="51" fill="#00ff00"/><rect x="1020" y="419" width="3" height="50" fill="#00ff00"/><rect x="1025" y="467" width="1" height="22" fill="#00ff00"/><rect x="1024" y="469" width="3" height="7" fill="#00ff00"/><rect x="1029" y="457" width="1" height="21" fill="#ff0000"/><rect x="1028" y="459" width="3" height="17" fill="#ff0000"/><rect x="1033" y="461" width="1" height="16" fill="#ff0000"/><rect x="1032" y="461" width="3" height="15" fill="#ff0000"/><rect x="1037" y="441" width="1" height="44" fill="#ff0000"/><rect x="1036" y="441" width="3" height="35" fill="#ff0000"/><rect x="1041" y="437" width="1" height="6" fill="#ff0000"/><rect x="1040" y="437" width="3" height="6" fill="#ff0000"/><rect x="1045" y="438" width="1" height="15" fill="#00ff00"/><rect x="1044" y="438" width="3" height="14" fill="#00ff00"/><rect x="1049" y="451" width="1" height="20" fill="#00ff00"/><rect x="1048" y="452" width="3" height="9" fill="#00ff00"/><rect x="1053" y="458" width="1" height="11" fill="#00ff00"/><rect x="1052" y="459" width="3" height="10" fill="#00ff00"/><rect x="1057" y="468" width="1" height="8" fill="#00ff00"/><rect x="1056" y="468" width="3" height="1" fill="#00ff00"/><rect x="1061" y="435" width="1" height="35" fill="#ff0000"/><rect x="1060" y="437" width="3" height="33" fill="#ff0000"/><rect x="1065" y="423" width="1" height="16" fill="#ff0000"/><rect x="1064" y="426" width="3" height="13" fill="#ff0000"/><rect x="1069" y="425" width="1" height="16" fill="#00ff00"/><rect x="1068" y="426" width="3" height="9" fill="#00ff00"/><rect x="1073" y="409" width="1" height="37" fill="#ff0000"/><rect x="1072" y="410" width="3" height="25" fill="#ff0000"/><rect x="1077" y="402" width="1" height="20" fill="#00ff00"/><rect x="1076" y="409" width="3" height="11" fill="#00ff00"/><rect x="1081" y="417" width="1" height="19" fill="#00ff00"/><rect x="1080" y="419" width="3" height="10" fill="#00ff00"/><rect x="1085" y="400" width="1" height="32" fill="#ff0000"/><rect x="1084" y="405" width="3" height="24" fill="#ff0000"/><rect x="1089" y="404" width="1" height="11" fill="#00ff00"/><rect x="1088" y="405" width="3" height="9" fill="#00ff00"/><rect x="1093" y="387" width="1" height="30" fill="#ff0000"/><rect x="1092" y="393" width="3" height="20" fill="#ff0000"/><rect x="1097" y="387" width="1" height="14" fill="#00ff00"/><rect x="1096" y="393" width="3" height="4" fill="#00ff00"/><rect x="1101" y="390" width="1" height="15" fill="#ff0000"/><rect x="1100" y="392" width="3" height="6" fill="#ff0000"/><rect x="1105" y="386" width="1" height="19" fill="#00ff00"/><rect x="1104" y="392" width="3" height="12" fill="#00ff00"/><rect x="1109" y="400" width="1" height="36" fill="#00ff00"/><rect x="1108" y="402" width="3" height="26" fill="#00ff00"/><rect x="1113" y="416" width="1" height="16" fill="#00ff00"/><rect x="1112" y="419" width="3" height="9" fill="#00ff00"/><rect x="1117" y="400" width="1" height="29" fill="#ff0000"/><rect x="1116" y="413" width="3" height="12" fill="#ff0000"/><rect x="1121" y="392" width="1" height="24" fill="#ff0000"/><rect x="1120" y="400" width="3" height="13" fill="#ff0000"/><rect x="1125" y="398" width="1" height="12" fill="#00ff00"/><rect x="1124" y="400" width="3" height="8" fill="#00ff00"/><rect x="1129" y="402" width="1" height="19" fill="#00ff00"/><rect x="1128" y="406" width="3" height="11" fill="#00ff00"/><rect x="1133" y="410" width="1" height="23" fill="#ff0000"/><rect x="1132" y="410" width="3" height="7" fill="#ff0000"/><rect x="1137" y="407" width="1" height="18" fill="#00ff00"/><rect x="1136" y="409" width="3" height="16" fill="#00ff00"/><rect x="1141" y="410" width="1" height="16" fill="#ff0000"/><rect x="1140" y="424" width="3" height="1" fill="#ff0000"/><rect x="1145" y="415" width="1" height="18" fill="#00ff00"/><rect x="1144" y="423" width="3" height="4" fill="#00ff00"/><rect x="1149" y="422" width="1" height="8" fill="#00ff00"/><rect x="1148" y="426" width="3" height="1" fill="#00ff00"/><rect x="1153" y="421" width="1" height="14" fill="#00ff00"/><rect x="1152" y="425" width="3" height="8" fill="#00ff00"/><rect x="1157" y="410" width="1" height="18" fill="#ff0000"/><rect x="1156" y="413" width="3" height="10" fill="#ff0000"/><rect x="1161" y="405" width="1" height="13" fill="#00ff00"/><rect x="1160" y="413" width="3" height="2" fill="#00ff00"/><rect x="1165" y="408" width="1" height="11" fill="#00ff00"/><rect x="1164" y="415" width="3" height="3" fill="#00ff00"/><rect x="1169" y="415" width="1" height="12" fill="#00ff00"/><rect x="1168" y="419" width="3" height="2" fill="#00ff00"/><rect x="1173" y="419" width="1" height="11" fill="#00ff00"/><rect x="1172" y="419" width="3" height="9" fill="#00ff00"/><rect x="1177" y="424" width="1" height="6" fill="#ff0000"/><rect x="1176" y="425" width="3" height="3" fill="#ff0000"/><rect x="1181" y="422" width="1" height="42" fill="#00ff00"/><rect x="1180" y="425" width="3" height="36" fill="#00ff00"/><rect x="1185" y="452" width="1" height="12" fill="#ff0000"/><rect x="1184" y="458" width="3" height="3" fill="#ff0000"/><rect x="1189" y="456" width="1" height="20" fill="#00ff00"/><rect x="1188" y="458" width="3" height="11" fill="#00ff00"/><rect x="1193" y="452" width="1" height="22" fill="#ff0000"/><rect x="1192" y="453" width="3" height="16" fill="#ff0000"/><rect x="1197" y="446" width="1" height="16" fill="#ff0000"/><rect x="1196" y="448" width="3" height="6" fill="#ff0000"/><rect x="1201" y="448" width="1" height="17" fill="#00ff00"/><rect x="1200" y="448" width="3" height="13" fill="#00ff00"/><rect x="1205" y="443" width="1" height="22" fill="#ff0000"/><rect x="1204" y="452" width="3" height="9" fill="#ff0000"/><rect x="1209" y="445" width="1" height="11" fill="#ff0000"/><rect x="1208" y="449" width="3" height="4" fill="#ff0000"/><rect x="1213" y="436" width="1" height="17" fill="#00ff00"/><rect x="1212" y="449" width="3" height="4" fill="#00ff00"/><rect x="1217" y="452" width="1" height="24" fill="#00ff00"/><rect x="1216" y="452" width="3" height="23" fill="#00ff00"/><rect x="1221" y="473" width="1" height="13" fill="#00ff00"/><rect x="1220" y="474" width="3" height="3" fill="#00ff00"/><rect x="1225" y="469" width="1" height="12" fill="#00ff00"/><rect x="1224" y="470" width="3" height="4" fill="#00ff00"/><rect x="1229" y="452" width="1" height="72" fill="#00ff00"/><rect x="1228" y="463" width="3" height="57" fill="#00ff00"/><rect x="1233" y="498" width="1" height="28" fill="#ff0000"/><rect x="1232" y="506" width="3" height="14" fill="#ff0000"/><rect x="1237" y="505" width="1" height="32" fill="#00ff00"/><rect x="1236" y="506" width="3" height="26" fill="#00ff00"/><rect x="1241" y="523" width="1" height="22" fill="#ff0000"/><rect x="1240" y="528" width="3" height="6" fill="#ff0000"/><rect x="1245" y="520" width="1" height="18" fill="#00ff00"/><rect x="1244" y="528" width="3" height="3" fill="#00ff00"/><rect x="1249" y="529" width="1" height="22" fill="#00ff00"/><rect x="1248" y="531" width="3" height="15" fill="#00ff00"/><rect x="1253" y="534" width="1" height="38" fill="#00ff00"/><rect x="1252" y="545" width="3" height="20" fill="#00ff00"/><rect x="1257" y="555" width="1" height="11" fill="#ff0000"/><rect x="1256" y="562" width="3" height="3" fill="#ff0000"/><rect x="1261" y="557" width="1" height="21" fill="#00ff00"/><rect x="1260" y="562" width="3" height="7" fill="#00ff00"/><rect x="1265" y="542" width="1" height="29" fill="#ff0000"/><rect x="1264" y="546" width="3" height="22" fill="#ff0000"/><rect x="1269" y="519" width="1" height="29" fill="#ff0000"/><rect x="1268" y="525" width="3" height="21" fill="#ff0000"/><rect x="1273" y="516" width="1" height="13" fill="#00ff00"/><rect x="1272" y="525" width="3" height="1" fill="#00ff00"/><rect x="1277" y="539" width="1" height="30" fill="#ff0000"/><rect x="1276" y="558" width="3" height="11" fill="#ff0000"/><rect x="1281" y="549" width="1" height="24" fill="#00ff00"/><rect x="1280" y="558" width="3" height="11" fill="#00ff00"/><rect x="1285" y="556" width="1" height="23" fill="#00ff00"/><rect x="1284" y="568" width="3" height="9" fill="#00ff00"/><rect x="1289" y="550" width="1" height="26" fill="#ff0000"/><rect x="1288" y="550" width="3" height="26" fill="#ff0000"/><rect x="1293" y="539" width="1" height="13" fill="#ff0000"/><rect x="1292" y="542" width="3" height="9" fill="#ff0000"/><rect x="1297" y="538" width="1" height="28" fill="#00ff00"/><rect x="1296" y="542" width="3" height="23" fill="#00ff00"/><rect x="1301" y="541" width="1" height="26" fill="#ff0000"/><rect x="1300" y="543" width="3" height="23" fill="#ff0000"/></g>
<path d="M470.5 125v2M472.5 128v2M475.5 132v2M479.5 137v2M483.5 142v2M486.5 146v2M488.5 149v2M490.5 152v2M492.5 155v2M494.5 158v2M496.5 161v2M498.5 164v2M499.5 166v2M500.5 168v2M503.5 172v2M506.5 176v2M508.5 179v2M511.5 183v2M515.5 188v2M519.5 193v2M522.5 197v2M524.5 200v2M527.5 204v2M531.5 209v2M815.5 284v2M827.5 296v2M835.5 305v2M867.5 334v2M871.5 339v2M874.5 343v2M876.5 346v2M878.5 349v2M880.5 352v2M883.5 356v2M886.5 360v2M888.5 363v2M891.5 367v2M895.5 372v2M898.5 376v2M900.5 379v2M903.5 383v2M907.5 388v2M911.5 393v2M915.5 398v2M1247.5 456v2M1251.5 461v2M1259.5 470v2M1279.5 490v2M1282.5 494v2M1284.5 497v2M1295.5 509v2M428 106.5h11M416 107.5h12M439 107.5h4M413 108.5h3M443 108.5h3M411 109.5h2M446 109.5h2M409 110.5h2M448 110.5h2M407 111.5h2M450 111.5h2M405 112.5h2M452 112.5h2M404 113.5h1M454 113.5h2M402 114.5h2M456 114.5h2M401 115.5h1M458 115.5h1M400 116.5h1M459 116.5h2M398 117.5h2M461 117.5h1M397 118.5h1M462 118.5h1M396 119.5h1M463 119.5h2M394 120.5h2M465 120.5h1M393 121.5h1M466 121.5h1M392 122.5h1M467 122.5h1M390 123.5h2M468 123.5h1M389 124.5h1M469 124.5h1M388 125.5h1M387 126.5h1M386 127.5h1M471 127.5h1M385 128.5h1M384 129.5h1M383 130.5h1M473 130.5h1M382 131.5h1M474 131.5h1M381 132.5h1M380 133.5h1M379 134.5h1M476 134.5h1M378 135.5h1M477 135.5h1M377 136.5h1M478 136.5h1M376 137.5h1M375 138.5h1M374 139.5h1M480 139.5h1M373 140.5h1M481 140.5h1M372 141.5h1M482 141.5h1M371 142.5h1M370 143.5h1M369 144.5h1M484 144.5h1M368 145.5h1M485 145.5h1M367 146.5h1M366 147.5h1M365 148.5h1M487 148.5h1M364 149.5h1M363 150.5h1M362 151.5h1M489 151.5h1M361 152.5h1M360 153.5h1M358 154.5h2M491 154.5h1M357 155.5h1M356 156.5h1M355 157.5h1M493 157.5h1M354 158.5h1M353 159.5h1M352 160.5h1M495 160.5h1M351 161.5h1M350 162.5h1M349 163.5h1M497 163.5h1M348 164.5h1M346 165.5h2M345 166.5h1M344 167.5h1M343 168.5h1M342 169.5h1M341 170.5h1M501 170.5h1M340 171.5h1M502 171.5h1M339 172.5h1M338 173.5h1M337 174.5h1M504 174.5h1M336 175.5h1M505 175.5h1M335 176.5h1M334 177.5h1M333 178.5h1M507 178.5h1M332 179.5h1M330 180.5h2M329 181.5h1M509 181.5h1M328 182.5h1M510 182.5h1M327 183.5h1M326 184.5h1M325 185.5h1M512 185.5h1M324 186.5h1M513 186.5h1M323 187.5h1M514 187.5h1M322 188.5h1M321 189.5h1M320 190.5h1M516 190.5h1M318 191.5h2M517 191.5h1M317 192.5h1M518 192.5h1M316 193.5h1M315 194.5h1M314 195.5h1M520 195.5h1M313 196.5h1M521 196.5h1M311 197.5h2M309 198.5h2M308 199.5h1M523 199.5h1M306 200.5h2M305 201.5h1M304 202.5h1M525 202.5h1M303 203.5h1M526 203.5h1M302 204.5h1M301 205.5h1M299 206.5h2M528 206.5h1M297 207.5h2M529 207.5h1M660 207.5h7M296 208.5h1M530 208.5h1M656 208.5h4M667 208.5h3M294 209.5h2M652 209.5h4M670 209.5h2M293 210.5h1M649 210.5h3M672 210.5h3M292 211.5h1M532 211.5h1M647 211.5h2M675 211.5h4M290 212.5h2M533 212.5h1M645 212.5h2M679 212.5h4M289 213.5h1M534 213.5h1M643 213.5h2M683 213.5h3M288 214.5h1M535 214.5h2M641 214.5h2M686 214.5h2M286 215.5h2M537 215.5h1M639 215.5h2M688 215.5h3M285 216.5h1M538 216.5h2M637 216.5h2M691 216.5h3M284 217.5h1M540 217.5h2M635 217.5h2M694 217.5h2M283 218.5h1M542 218.5h1M632 218.5h3M696 218.5h3M282 219.5h1M543 219.5h2M628 219.5h4M699 219.5h3M281 220.5h1M545 220.5h1M624 220.5h4M702 220.5h2M280 221.5h1M546 221.5h2M621 221.5h3M704 221.5h2M278 222.5h2M548 222.5h3M619 222.5h2M706 222.5h2M277 223.5h1M551 223.5h3M617 223.5h2M708 223.5h3M275 224.5h2M554 224.5h2M615 224.5h2M711 224.5h3M273 225.5h2M556 225.5h6M612 225.5h3M714 225.5h2M272 226.5h1M562 226.5h2M608 226.5h4M716 226.5h2M270 227.5h2M564 227.5h2M601 227.5h7M718 227.5h2M269 228.5h1M566 228.5h2M599 228.5h2M720 228.5h2M268 229.5h1M568 229.5h3M596 229.5h3M722 229.5h2M266 230.5h2M571 230.5h4M593 230.5h3M724 230.5h2M265 231.5h1M575 231.5h4M591 231.5h2M726 231.5h1M263 232.5h2M579 232.5h12M727 232.5h2M261 233.5h2M729 233.5h2M259 234.5h2M731 234.5h3M256 235.5h3M734 235.5h2M180 236.5h2M252 236.5h4M736 236.5h2M172 237.5h8M182 237.5h2M248 237.5h4M738 237.5h1M168 238.5h4M184 238.5h11M244 238.5h4M739 238.5h2M164 239.5h4M195 239.5h4M241 239.5h3M741 239.5h1M160 240.5h4M199 240.5h8M239 240.5h2M742 240.5h2M157 241.5h3M207 241.5h4M236 241.5h3M744 241.5h2M155 242.5h2M211 242.5h4M232 242.5h4M746 242.5h2M152 243.5h3M215 243.5h4M228 243.5h4M748 243.5h3M149 244.5h3M219 244.5h9M751 244.5h3M147 245.5h2M754 245.5h2M144 246.5h3M756 246.5h2M141 247.5h3M758 247.5h2M139 248.5h2M760 248.5h2M137 249.5h2M762 249.5h2M135 250.5h2M764 250.5h2M133 251.5h2M766 251.5h2M132 252.5h1M768 252.5h2M130 253.5h2M770 253.5h2M129 254.5h1M772 254.5h2M127 255.5h2M774 255.5h2M125 256.5h2M776 256.5h2M123 257.5h2M778 257.5h2M121 258.5h2M780 258.5h2M119 259.5h2M782 259.5h2M117 260.5h2M784 260.5h2M115 261.5h2M786 261.5h2M113 262.5h2M788 262.5h2M111 263.5h2M790 263.5h2M108 264.5h3M792 264.5h2M105 265.5h3M794 265.5h1M104 266.5h1M795 266.5h2M102 267.5h2M797 267.5h1M101 268.5h1M798 268.5h1M99 269.5h2M799 269.5h1M97 270.5h2M800 270.5h1M96 271.5h1M801 271.5h1M95 272.5h1M802 272.5h1M94 273.5h1M803 273.5h2M93 274.5h1M805 274.5h1M92 275.5h1M806 275.5h1M90 276.5h2M807 276.5h1M89 277.5h1M808 277.5h1M88 278.5h1M809 278.5h1M86 279.5h2M810 279.5h1M85 280.5h1M811 280.5h1M84 281.5h1M812 281.5h1M82 282.5h2M813 282.5h1M81 283.5h1M814 283.5h1M16 284.5h15M79 284.5h2M12 285.5h4M31 285.5h4M77 285.5h2M8 286.5h4M35 286.5h4M75 286.5h2M816 286.5h1M4 287.5h4M39 287.5h3M73 287.5h2M817 287.5h1M1 288.5h3M42 288.5h2M71 288.5h2M818 288.5h1M44 289.5h2M69 289.5h2M819 289.5h1M46 290.5h2M67 290.5h2M820 290.5h1M48 291.5h3M65 291.5h2M821 291.5h1M51 292.5h4M63 292.5h2M822 292.5h1M55 293.5h8M823 293.5h2M825 294.5h1M826 295.5h1M828 298.5h1M829 299.5h1M830 300.5h1M831 301.5h1M832 302.5h1M833 303.5h1M834 304.5h1M836 307.5h1M837 308.5h1M838 309.5h1M839 310.5h2M841 311.5h1M842 312.5h1M843 313.5h2M845 314.5h1M846 315.5h1M847 316.5h2M849 317.5h1M850 318.5h1M851 319.5h1M852 320.5h1M853 321.5h1M854 322.5h1M855 323.5h1M856 324.5h1M857 325.5h1M858 326.5h1M859 327.5h1M860 328.5h1M861 329.5h1M862 330.5h1M863 331.5h2M865 332.5h1M866 333.5h1M868 336.5h1M869 337.5h1M870 338.5h1M872 341.5h1M873 342.5h1M875 345.5h1M877 348.5h1M879 351.5h1M881 354.5h1M882 355.5h1M884 358.5h1M885 359.5h1M887 362.5h1M889 365.5h1M890 366.5h1M892 369.5h1M893 370.5h1M894 371.5h1M896 374.5h1M897 375.5h1M899 378.5h1M901 381.5h1M902 382.5h1M904 385.5h1M905 386.5h1M906 387.5h1M908 390.5h1M909 391.5h1M910 392.5h1M912 395.5h1M913 396.5h1M914 397.5h1M916 400.5h1M917 401.5h1M918 402.5h1M919 403.5h2M921 404.5h1M922 405.5h1M923 406.5h1M924 407.5h1M925 408.5h1M926 409.5h2M928 410.5h2M930 411.5h1M931 412.5h2M933 413.5h1M934 414.5h1M935 415.5h2M937 416.5h1M938 417.5h2M1177 417.5h2M940 418.5h2M1175 418.5h2M1179 418.5h4M942 419.5h2M1016 419.5h3M1172 419.5h3M1183 419.5h4M944 420.5h3M1005 420.5h11M1019 420.5h4M1169 420.5h3M1187 420.5h3M947 421.5h4M1003 421.5h2M1023 421.5h8M1036 421.5h11M1167 421.5h2M1190 421.5h2M951 422.5h4M1000 422.5h3M1031 422.5h5M1047 422.5h28M1164 422.5h3M1192 422.5h3M955 423.5h7M996 423.5h4M1075 423.5h12M1156 423.5h8M1195 423.5h4M962 424.5h2M980 424.5h3M988 424.5h8M1087 424.5h4M1152 424.5h4M1199 424.5h4M964 425.5h3M972 425.5h8M983 425.5h5M1091 425.5h12M1148 425.5h4M1203 425.5h3M967 426.5h5M1103 426.5h4M1145 426.5h3M1206 426.5h2M1107 427.5h3M1143 427.5h2M1208 427.5h2M1110 428.5h2M1141 428.5h2M1210 428.5h2M1112 429.5h7M1132 429.5h3M1139 429.5h2M1212 429.5h2M1119 430.5h13M1135 430.5h4M1214 430.5h2M1216 431.5h2M1218 432.5h1M1219 433.5h2M1221 434.5h1M1222 435.5h2M1224 436.5h2M1226 437.5h1M1227 438.5h2M1229 439.5h1M1230 440.5h1M1231 441.5h2M1233 442.5h1M1234 443.5h1M1235 444.5h1M1236 445.5h1M1237 446.5h1M1238 447.5h1M1239 448.5h1M1240 449.5h1M1241 450.5h1M1242 451.5h1M1243 452.5h1M1244 453.5h1M1245 454.5h1M1246 455.5h1M1248 458.5h1M1249 459.5h1M1250 460.5h1M1252 463.5h1M1253 464.5h1M1254 465.5h1M1255 466.5h1M1256 467.5h1M1257 468.5h1M1258 469.5h1M1260 472.5h1M1261 473.5h1M1262 474.5h1M1263 475.5h1M1264 476.5h1M1265 477.5h1M1266 478.5h1M1267 479.5h2M1269 480.5h1M1270 481.5h1M1271 482.5h1M1272 483.5h1M1273 484.5h1M1274 485.5h1M1275 486.5h1M1276 487.5h1M1277 488.5h1M1278 489.5h1M1280 492.5h1M1281 493.5h1M1283 496.5h1M1285 499.5h1M1286 500.5h1M1287 501.5h1M1288 502.5h1M1289 503.5h1M1290 504.5h1M1291 505.5h1M1292 506.5h1M1293 507.5h1M1294 508.5h1M1296 511.5h1M1297 512.5h1M1298 513.5h2M1300 514.5h2" fill="none" stroke="#0000cd" stroke-width="1" shape-rendering="crispEdges"/>
<path d="M63.5 295v2M75.5 282v2M78.5 278v2M80.5 275v2M82.5 272v2M83.5 270v2M84.5 268v2M86.5 265v2M87.5 263v2M88.5 261v2M89.5 259v2M90.5 257v2M91.5 254v3M92.5 252v2M93.5 249v3M94.5 247v2M95.5 245v2M96.5 243v2M97.5 240v3M98.5 238v2M99.5 236v2M100.5 234v2M101.5 232v2M102.5 230v2M103.5 228v2M104.5 226v2M146.5 223v2M148.5 226v2M150.5 229v2M151.5 231v2M152.5 233v2M155.5 237v2M159.5 242v2M227.5 237v2M239.5 224v2M255.5 209v2M323.5 167v2M327.5 162v2M334.5 154v2M336.5 151v2M338.5 148v2M340.5 145v2M342.5 142v2M344.5 139v2M347.5 135v2M350.5 131v2M352.5 128v2M354.5 125v2M356.5 122v2M359.5 118v2M363.5 113v2M367.5 108v2M370.5 104v2M372.5 101v2M374.5 98v2M376.5 95v2M418.5 90v2M420.5 93v2M422.5 96v2M424.5 99v2M426.5 102v2M428.5 105v2M430.5 108v2M432.5 111v2M434.5 114v2M436.5 117v2M438.5 120v2M440.5 123v2M442.5 126v2M444.5 129v2M446.5 132v2M448.5 135v2M451.5 139v2M454.5 143v2M456.5 146v2M459.5 150v2M462.5 154v2M464.5 157v2M466.5 160v2M467.5 162v2M468.5 164v2M469.5 166v2M470.5 168v2M471.5 170v2M472.5 172v2M473.5 174v2M474.5 176v2M476.5 179v2M478.5 182v2M480.5 185v2M482.5 188v2M483.5 190v2M484.5 192v2M486.5 195v2M487.5 197v2M488.5 199v2M490.5 202v2M491.5 204v2M492.5 206v2M494.5 209v2M495.5 211v2M496.5 213v2M498.5 216v2M499.5 218v2M500.5 220v2M501.5 222v2M507.5 229v2M511.5 234v2M514.5 238v2M516.5 241v2M551.5 243v2M555.5 238v2M583.5 215v2M801.5 278v2M802.5 280v2M803.5 282v2M804.5 284v2M805.5 286v2M806.5 288v2M807.5 290v2M808.5 292v2M809.5 294v3M810.5 297v2M811.5 299v2M812.5 301v2M813.5 303v3M814.5 306v2M815.5 308v2M816.5 310v2M817.5 312v2M818.5 314v2M819.5 316v2M820.5 318v2M821.5 320v2M822.5 322v2M824.5 325v2M825.5 327v2M826.5 329v2M827.5 331v2M828.5 333v2M829.5 335v2M830.5 337v2M831.5 339v2M832.5 341v2M833.5 343v2M834.5 345v2M835.5 347v2M836.5 349v2M838.5 352v2M839.5 354v2M840.5 356v2M841.5 358v2M843.5 361v2M851.5 370v2M855.5 375v2M879.5 389v2M898.5 405v2M899.5 407v2M900.5 409v2M902.5 412v2M904.5 415v2M919.5 431v2M970.5 430v2M971.5 428v2M972.5 426v2M979.5 418v2M987.5 410v2M990.5 406v2M992.5 403v2M1019.5 398v2M1023.5 403v2M1026.5 407v2M1027.5 409v2M1028.5 411v2M1030.5 414v2M1032.5 417v2M1043.5 427v2M1046.5 431v2M1048.5 434v2M1051.5 438v2M1054.5 442v2M1056.5 445v2M1187.5 429v2M1226.5 457v2M1228.5 460v2M1230.5 463v2M1232.5 466v2M1235.5 470v2M1239.5 475v2M1243.5 480v2M1246.5 484v2M1248.5 487v2M1249.5 489v2M1250.5 491v2M1251.5 493v2M1252.5 495v2M1253.5 497v2M1254.5 499v2M1255.5 501v2M1256.5 503v2M1258.5 506v2M1259.5 508v2M1260.5 510v2M1261.5 512v2M1262.5 514v2M1263.5 516v2M1264.5 518v2M1267.5 522v2M1274.5 530v2M1276.5 533v2M1278.5 536v2M1279.5 538v2M1280.5 540v2M396 83.5h11M392 84.5h4M407 84.5h3M389 85.5h3M410 85.5h2M388 86.5h1M412 86.5h2M386 87.5h2M414 87.5h1M385 88.5h1M415 88.5h2M384 89.5h1M417 89.5h1M382 90.5h2M381 91.5h1M380 92.5h1M419 92.5h1M378 93.5h2M377 94.5h1M421 95.5h1M375 97.5h1M423 98.5h1M373 100.5h1M425 101.5h1M371 103.5h1M427 104.5h1M369 106.5h1M368 107.5h1M429 107.5h1M366 110.5h1M431 110.5h1M365 111.5h1M364 112.5h1M433 113.5h1M362 115.5h1M361 116.5h1M435 116.5h1M360 117.5h1M437 119.5h1M358 120.5h1M357 121.5h1M439 122.5h1M355 124.5h1M441 125.5h1M353 127.5h1M443 128.5h1M351 130.5h1M445 131.5h1M349 133.5h1M348 134.5h1M447 134.5h1M346 137.5h1M449 137.5h1M345 138.5h1M450 138.5h1M343 141.5h1M452 141.5h1M453 142.5h1M341 144.5h1M455 145.5h1M339 147.5h1M457 148.5h1M458 149.5h1M337 150.5h1M460 152.5h1M335 153.5h1M461 153.5h1M333 156.5h1M463 156.5h1M332 157.5h1M331 158.5h1M330 159.5h1M465 159.5h1M329 160.5h1M328 161.5h1M326 164.5h1M325 165.5h1M324 166.5h1M322 169.5h1M321 170.5h1M320 171.5h1M319 172.5h1M318 173.5h1M317 174.5h1M316 175.5h1M314 176.5h2M313 177.5h1M311 178.5h2M475 178.5h1M309 179.5h2M308 180.5h1M306 181.5h2M477 181.5h1M305 182.5h1M303 183.5h2M300 184.5h3M479 184.5h1M297 185.5h3M295 186.5h2M292 187.5h3M481 187.5h1M289 188.5h3M287 189.5h2M285 190.5h2M283 191.5h2M281 192.5h2M279 193.5h2M277 194.5h2M485 194.5h1M276 195.5h1M274 196.5h2M273 197.5h1M271 198.5h2M269 199.5h2M267 200.5h2M265 201.5h2M489 201.5h1M264 202.5h1M262 203.5h2M261 204.5h1M600 204.5h3M260 205.5h1M597 205.5h3M603 205.5h4M258 206.5h2M595 206.5h2M607 206.5h3M257 207.5h1M593 207.5h2M610 207.5h2M637 207.5h10M256 208.5h1M493 208.5h1M592 208.5h1M612 208.5h2M635 208.5h2M647 208.5h4M660 208.5h3M590 209.5h2M614 209.5h2M624 209.5h11M651 209.5h9M663 209.5h4M589 210.5h1M616 210.5h8M667 210.5h3M254 211.5h1M588 211.5h1M670 211.5h2M253 212.5h1M586 212.5h2M672 212.5h2M252 213.5h1M585 213.5h1M674 213.5h2M250 214.5h2M584 214.5h1M676 214.5h3M249 215.5h1M497 215.5h1M679 215.5h3M248 216.5h1M682 216.5h1M117 217.5h2M132 217.5h6M246 217.5h2M582 217.5h1M683 217.5h1M115 218.5h2M119 218.5h13M138 218.5h1M245 218.5h1M581 218.5h1M684 218.5h1M113 219.5h2M139 219.5h2M244 219.5h1M580 219.5h1M685 219.5h1M111 220.5h2M141 220.5h1M243 220.5h1M578 220.5h2M686 220.5h1M109 221.5h2M142 221.5h2M242 221.5h1M577 221.5h1M687 221.5h1M108 222.5h1M144 222.5h2M241 222.5h1M576 222.5h1M688 222.5h1M107 223.5h1M240 223.5h1M575 223.5h1M689 223.5h1M106 224.5h1M502 224.5h1M574 224.5h1M690 224.5h1M105 225.5h1M147 225.5h1M503 225.5h1M573 225.5h1M691 225.5h1M238 226.5h1M504 226.5h1M572 226.5h1M692 226.5h1M237 227.5h1M505 227.5h1M570 227.5h2M693 227.5h1M149 228.5h1M236 228.5h1M506 228.5h1M569 228.5h1M694 228.5h1M235 229.5h1M567 229.5h2M695 229.5h2M234 230.5h1M565 230.5h2M697 230.5h1M233 231.5h1M508 231.5h1M563 231.5h2M698 231.5h1M232 232.5h1M509 232.5h1M561 232.5h2M699 232.5h2M231 233.5h1M510 233.5h1M560 233.5h1M701 233.5h1M230 234.5h1M559 234.5h1M702 234.5h1M153 235.5h1M229 235.5h1M558 235.5h1M703 235.5h2M154 236.5h1M228 236.5h1M512 236.5h1M557 236.5h1M705 236.5h1M513 237.5h1M556 237.5h1M706 237.5h1M707 238.5h2M156 239.5h1M226 239.5h1M709 239.5h1M157 240.5h1M225 240.5h1M515 240.5h1M554 240.5h1M710 240.5h1M158 241.5h1M224 241.5h1M553 241.5h1M711 241.5h2M223 242.5h1M552 242.5h1M713 242.5h1M222 243.5h1M517 243.5h1M714 243.5h1M160 244.5h1M221 244.5h1M518 244.5h1M715 244.5h1M161 245.5h1M220 245.5h1M519 245.5h1M550 245.5h1M716 245.5h1M162 246.5h1M219 246.5h1M520 246.5h1M549 246.5h1M717 246.5h1M163 247.5h2M218 247.5h1M521 247.5h1M548 247.5h1M718 247.5h1M165 248.5h2M217 248.5h1M522 248.5h2M546 248.5h2M719 248.5h2M167 249.5h3M216 249.5h1M524 249.5h3M544 249.5h2M721 249.5h1M170 250.5h1M214 250.5h2M527 250.5h4M536 250.5h8M722 250.5h1M171 251.5h2M213 251.5h1M531 251.5h5M723 251.5h1M173 252.5h1M212 252.5h1M724 252.5h1M174 253.5h2M211 253.5h1M725 253.5h1M176 254.5h2M210 254.5h1M726 254.5h1M178 255.5h2M209 255.5h1M727 255.5h2M180 256.5h2M208 256.5h1M729 256.5h1M182 257.5h1M207 257.5h1M730 257.5h2M183 258.5h2M206 258.5h1M732 258.5h2M185 259.5h1M205 259.5h1M734 259.5h1M186 260.5h2M203 260.5h2M735 260.5h1M188 261.5h15M736 261.5h1M737 262.5h1M738 263.5h2M740 264.5h3M760 264.5h3M743 265.5h17M763 265.5h3M766 266.5h2M85 267.5h1M768 267.5h3M771 268.5h16M787 269.5h3M790 270.5h1M791 271.5h2M793 272.5h1M794 273.5h1M81 274.5h1M795 274.5h2M797 275.5h1M798 276.5h1M79 277.5h1M799 277.5h2M77 280.5h1M76 281.5h1M74 284.5h1M73 285.5h1M72 286.5h1M71 287.5h1M70 288.5h1M1 289.5h2M16 289.5h7M69 289.5h1M3 290.5h13M23 290.5h4M68 290.5h1M27 291.5h3M67 291.5h1M30 292.5h1M66 292.5h1M31 293.5h2M65 293.5h1M33 294.5h1M64 294.5h1M34 295.5h1M35 296.5h2M37 297.5h1M62 297.5h1M38 298.5h2M61 298.5h1M40 299.5h2M59 299.5h2M42 300.5h2M56 300.5h3M44 301.5h12M823 324.5h1M837 351.5h1M842 360.5h1M844 363.5h1M845 364.5h1M846 365.5h1M847 366.5h1M848 367.5h1M849 368.5h1M850 369.5h1M852 372.5h1M853 373.5h1M854 374.5h1M856 377.5h1M857 378.5h1M858 379.5h2M860 380.5h3M863 381.5h3M866 382.5h2M868 383.5h2M870 384.5h2M872 385.5h2M874 386.5h2M876 387.5h2M878 388.5h1M880 391.5h1M881 392.5h1M882 393.5h1M883 394.5h2M1005 394.5h6M885 395.5h1M1003 395.5h2M1011 395.5h4M886 396.5h1M1001 396.5h2M1015 396.5h3M887 397.5h2M999 397.5h2M1018 397.5h1M889 398.5h1M997 398.5h2M890 399.5h1M996 399.5h1M891 400.5h2M995 400.5h1M1020 400.5h1M893 401.5h1M994 401.5h1M1021 401.5h1M894 402.5h1M993 402.5h1M1022 402.5h1M895 403.5h2M897 404.5h1M991 405.5h1M1024 405.5h1M1025 406.5h1M989 408.5h1M988 409.5h1M1125 410.5h2M1132 410.5h7M901 411.5h1M1123 411.5h2M1127 411.5h5M1139 411.5h4M986 412.5h1M1121 412.5h2M1143 412.5h3M985 413.5h1M1029 413.5h1M1119 413.5h2M1146 413.5h2M903 414.5h1M984 414.5h1M1117 414.5h2M1148 414.5h2M982 415.5h2M1115 415.5h2M1150 415.5h1M981 416.5h1M1031 416.5h1M1113 416.5h2M1151 416.5h2M905 417.5h1M980 417.5h1M1112 417.5h1M1153 417.5h2M906 418.5h1M1110 418.5h2M1155 418.5h4M1164 418.5h7M907 419.5h1M1033 419.5h1M1109 419.5h1M1159 419.5h5M1171 419.5h3M908 420.5h1M978 420.5h1M1034 420.5h1M1108 420.5h1M1174 420.5h2M909 421.5h1M977 421.5h1M1035 421.5h2M1106 421.5h2M1176 421.5h2M910 422.5h1M976 422.5h1M1037 422.5h1M1105 422.5h1M1178 422.5h1M911 423.5h1M975 423.5h1M1038 423.5h1M1104 423.5h1M1179 423.5h1M912 424.5h1M974 424.5h1M1039 424.5h2M1103 424.5h1M1180 424.5h1M913 425.5h1M973 425.5h1M1041 425.5h1M1102 425.5h1M1181 425.5h1M914 426.5h1M1042 426.5h1M1101 426.5h1M1182 426.5h2M915 427.5h1M1100 427.5h1M1184 427.5h2M916 428.5h1M1099 428.5h1M1186 428.5h1M917 429.5h1M1044 429.5h1M1098 429.5h1M918 430.5h1M1045 430.5h1M1097 430.5h1M1096 431.5h1M1188 431.5h1M969 432.5h1M1094 432.5h2M1189 432.5h1M920 433.5h1M968 433.5h1M1047 433.5h1M1093 433.5h1M1190 433.5h2M921 434.5h1M966 434.5h2M1092 434.5h1M1192 434.5h3M922 435.5h1M965 435.5h1M1090 435.5h2M1195 435.5h3M923 436.5h1M964 436.5h1M1049 436.5h1M1089 436.5h1M1198 436.5h1M924 437.5h1M962 437.5h2M1050 437.5h1M1088 437.5h1M1199 437.5h2M925 438.5h1M961 438.5h1M1087 438.5h1M1201 438.5h1M926 439.5h2M960 439.5h1M1086 439.5h1M1202 439.5h2M928 440.5h2M958 440.5h2M1052 440.5h1M1085 440.5h1M1204 440.5h3M930 441.5h1M957 441.5h1M1053 441.5h1M1084 441.5h1M1207 441.5h3M931 442.5h1M956 442.5h1M1082 442.5h2M1210 442.5h1M932 443.5h1M954 443.5h2M1081 443.5h1M1211 443.5h2M933 444.5h2M953 444.5h1M1055 444.5h1M1080 444.5h1M1213 444.5h1M935 445.5h3M945 445.5h2M951 445.5h2M1079 445.5h1M1214 445.5h1M938 446.5h2M943 446.5h2M947 446.5h4M1078 446.5h1M1215 446.5h1M940 447.5h3M1057 447.5h1M1077 447.5h1M1216 447.5h1M1058 448.5h2M1076 448.5h1M1217 448.5h1M1060 449.5h2M1074 449.5h2M1218 449.5h1M1062 450.5h2M1072 450.5h2M1219 450.5h1M1064 451.5h8M1220 451.5h1M1221 452.5h1M1222 453.5h1M1223 454.5h1M1224 455.5h1M1225 456.5h1M1227 459.5h1M1229 462.5h1M1231 465.5h1M1233 468.5h1M1234 469.5h1M1236 472.5h1M1237 473.5h1M1238 474.5h1M1240 477.5h1M1241 478.5h1M1242 479.5h1M1244 482.5h1M1245 483.5h1M1247 486.5h1M1257 505.5h1M1265 520.5h1M1266 521.5h1M1268 524.5h1M1269 525.5h1M1270 526.5h1M1271 527.5h1M1272 528.5h1M1273 529.5h1M1275 532.5h1M1277 535.5h1M1281 542.5h1M1282 543.5h1M1283 544.5h1M1284 545.5h1M1285 546.5h1M1286 547.5h1M1287 548.5h2M1289 549.5h2M1291 550.5h3M1294 551.5h2M1296 552.5h3M1299 553.5h3" fill="none" stroke="#ff0000" stroke-width="1" shape-rendering="crispEdges"/>
<path d="M31.5 299v2M34.5 303v2M36.5 306v2M51.5 309v2M54.5 305v2M55.5 303v2M56.5 301v2M57.5 298v3M58.5 296v2M59.5 294v2M60.5 292v2M61.5 288v4M62.5 284v4M63.5 280v4M64.5 276v4M65.5 272v4M66.5 268v4M67.5 264v4M68.5 260v4M69.5 256v4M70.5 253v3M71.5 250v3M72.5 247v3M73.5 244v3M74.5 242v2M75.5 240v2M76.5 238v2M77.5 235v3M78.5 233v2M79.5 230v3M80.5 228v2M81.5 226v2M89.5 220v2M90.5 218v2M91.5 215v3M92.5 213v2M93.5 210v3M94.5 208v2M95.5 206v2M96.5 204v2M97.5 202v2M98.5 200v2M100.5 197v2M106.5 196v2M108.5 199v2M109.5 201v2M110.5 203v3M111.5 206v4M112.5 210v3M113.5 213v3M114.5 216v2M115.5 218v3M116.5 221v2M117.5 223v3M118.5 226v2M119.5 228v2M120.5 230v2M121.5 232v2M123.5 235v2M130.5 232v2M132.5 229v2M145.5 231v2M146.5 233v2M147.5 235v3M148.5 238v2M149.5 240v3M150.5 243v3M151.5 246v3M152.5 249v3M153.5 252v2M154.5 254v2M155.5 256v2M156.5 258v2M157.5 260v2M159.5 263v2M162.5 267v2M164.5 270v2M187.5 262v2M190.5 258v2M191.5 256v2M192.5 254v2M195.5 250v2M202.5 245v2M204.5 242v2M211.5 235v2M218.5 227v2M220.5 224v2M223.5 220v2M235.5 211v2M242.5 204v2M244.5 201v2M251.5 196v2M310.5 168v2M312.5 165v2M314.5 162v2M316.5 159v2M318.5 156v2M320.5 153v2M321.5 151v2M322.5 149v2M323.5 146v3M324.5 144v2M325.5 141v3M326.5 139v2M327.5 137v2M328.5 135v2M329.5 133v2M330.5 131v2M332.5 128v2M333.5 126v2M334.5 124v2M335.5 121v3M336.5 119v2M337.5 117v2M338.5 115v2M340.5 112v2M370.5 87v2M371.5 85v2M372.5 83v2M374.5 80v2M375.5 78v2M376.5 76v2M391.5 70v2M394.5 74v2M395.5 76v2M396.5 78v2M397.5 80v2M399.5 83v2M406.5 90v2M407.5 92v2M408.5 94v2M409.5 96v2M410.5 98v2M411.5 100v2M412.5 102v2M414.5 105v2M415.5 107v2M416.5 109v2M417.5 111v3M418.5 114v4M419.5 118v3M420.5 121v4M421.5 125v3M422.5 128v4M423.5 132v3M424.5 135v4M425.5 139v2M426.5 141v2M427.5 143v2M428.5 145v2M446.5 153v2M448.5 156v2M450.5 159v2M452.5 162v2M461.5 168v2M462.5 170v2M463.5 172v2M464.5 174v2M465.5 176v3M466.5 179v3M467.5 182v3M468.5 185v3M469.5 188v3M470.5 191v4M471.5 195v4M472.5 199v4M473.5 203v4M474.5 207v4M475.5 211v4M476.5 215v4M477.5 219v3M478.5 222v4M479.5 226v4M480.5 230v4M481.5 234v2M482.5 236v2M483.5 238v2M484.5 240v2M485.5 242v2M523.5 247v2M526.5 251v2M528.5 254v2M541.5 252v2M542.5 250v2M543.5 248v2M544.5 246v2M545.5 243v3M546.5 240v3M547.5 236v4M548.5 233v3M549.5 230v3M550.5 227v3M551.5 224v3M552.5 221v3M553.5 218v3M554.5 216v2M555.5 214v2M556.5 212v2M557.5 209v3M558.5 207v2M559.5 205v2M560.5 203v2M561.5 201v2M579.5 206v2M634.5 205v2M635.5 203v2M636.5 201v2M675.5 225v2M682.5 232v2M684.5 235v2M698.5 246v2M699.5 248v2M700.5 250v2M731.5 270v2M746.5 275v2M747.5 273v2M748.5 271v2M749.5 269v2M754.5 263v2M756.5 260v2M759.5 256v2M766.5 254v2M767.5 256v2M768.5 258v2M769.5 260v2M774.5 266v2M776.5 269v2M791.5 282v2M793.5 285v2M794.5 287v2M795.5 289v3M796.5 292v2M797.5 294v3M798.5 297v3M799.5 300v2M800.5 302v3M801.5 305v3M802.5 308v4M803.5 312v4M804.5 316v4M805.5 320v4M806.5 324v4M807.5 328v3M808.5 331v4M809.5 335v3M810.5 338v4M811.5 342v4M812.5 346v4M813.5 350v3M814.5 353v2M815.5 355v3M816.5 358v2M817.5 360v3M818.5 363v2M819.5 365v3M820.5 368v2M821.5 370v2M826.5 375v2M828.5 378v2M846.5 380v2M848.5 377v2M866.5 385v2M867.5 387v2M868.5 389v2M869.5 391v2M878.5 399v2M879.5 401v2M880.5 403v2M881.5 405v3M882.5 408v3M883.5 411v4M884.5 415v3M885.5 418v2M887.5 421v2M891.5 426v2M914.5 446v2M916.5 449v2M942.5 452v2M943.5 450v2M944.5 448v2M945.5 446v2M949.5 443v2M950.5 441v2M951.5 439v2M952.5 437v2M953.5 434v3M954.5 432v2M955.5 430v2M956.5 428v2M957.5 425v3M958.5 422v3M959.5 419v3M960.5 416v3M961.5 414v2M966.5 410v2M967.5 408v2M968.5 406v2M970.5 403v2M971.5 401v2M972.5 399v2M973.5 397v2M974.5 395v2M976.5 392v2M1007.5 393v2M1009.5 396v2M1010.5 398v2M1011.5 400v3M1012.5 403v2M1013.5 405v2M1015.5 408v2M1017.5 411v2M1018.5 413v4M1019.5 417v4M1020.5 421v4M1021.5 425v3M1022.5 428v4M1023.5 432v4M1024.5 436v4M1025.5 440v3M1026.5 443v2M1027.5 445v3M1028.5 448v2M1029.5 450v2M1030.5 452v2M1032.5 455v2M1038.5 459v2M1040.5 456v2M1043.5 452v2M1054.5 453v2M1056.5 456v2M1063.5 455v2M1066.5 451v2M1068.5 448v2M1069.5 446v2M1070.5 443v3M1071.5 440v3M1072.5 437v3M1073.5 434v3M1074.5 432v2M1075.5 430v2M1076.5 428v2M1077.5 426v2M1098.5 406v2M1099.5 404v2M1100.5 402v2M1101.5 400v2M1110.5 404v2M1111.5 406v2M1112.5 408v2M1139.5 414v2M1177.5 421v2M1178.5 423v2M1179.5 425v3M1180.5 428v2M1181.5 430v2M1182.5 432v2M1183.5 434v2M1184.5 436v2M1185.5 438v3M1186.5 441v2M1187.5 443v2M1188.5 445v2M1189.5 447v2M1191.5 450v2M1195.5 455v2M1215.5 455v2M1225.5 465v2M1226.5 467v4M1227.5 471v4M1228.5 475v4M1229.5 479v3M1230.5 482v2M1231.5 484v3M1232.5 487v2M1233.5 489v3M1234.5 492v3M1235.5 495v3M1236.5 498v3M1237.5 501v3M1238.5 504v2M1239.5 506v3M1240.5 509v2M1241.5 511v3M1242.5 514v3M1243.5 517v2M1244.5 519v3M1245.5 522v2M1246.5 524v2M1248.5 527v2M1249.5 529v2M1250.5 531v3M1251.5 534v2M1252.5 536v3M1253.5 539v2M1254.5 541v2M1256.5 544v2M1258.5 547v2M1259.5 549v2M1260.5 551v2M1261.5 553v2M1267.5 555v2M1270.5 551v2M1271.5 549v2M1272.5 547v2M1282.5 546v2M1284.5 549v2M1287.5 553v2M1298.5 559v2M1300.5 556v2M389 68.5h1M387 69.5h2M390 69.5h1M385 70.5h2M383 71.5h2M381 72.5h2M392 72.5h1M380 73.5h1M393 73.5h1M378 74.5h2M377 75.5h1M373 82.5h1M398 82.5h1M400 85.5h1M401 86.5h1M402 87.5h1M403 88.5h2M369 89.5h1M405 89.5h1M368 90.5h1M366 91.5h2M365 92.5h1M364 93.5h1M362 94.5h2M361 95.5h1M360 96.5h1M359 97.5h1M358 98.5h1M356 99.5h2M353 100.5h3M352 101.5h1M351 102.5h1M350 103.5h1M349 104.5h1M413 104.5h1M348 105.5h1M346 106.5h2M345 107.5h1M344 108.5h1M343 109.5h1M342 110.5h1M341 111.5h1M339 114.5h1M331 130.5h1M429 147.5h1M430 148.5h1M431 149.5h1M432 150.5h1M433 151.5h1M434 152.5h1M444 152.5h2M435 153.5h2M440 153.5h4M437 154.5h3M319 155.5h1M447 155.5h1M317 158.5h1M449 158.5h1M315 161.5h1M451 161.5h1M313 164.5h1M453 164.5h1M454 165.5h2M456 166.5h2M311 167.5h1M458 167.5h2M460 168.5h1M309 170.5h1M308 171.5h1M307 172.5h1M306 173.5h1M305 174.5h1M304 175.5h1M303 176.5h1M302 177.5h1M301 178.5h1M299 179.5h2M293 180.5h6M291 181.5h2M289 182.5h2M287 183.5h2M285 184.5h2M283 185.5h2M280 186.5h3M276 187.5h4M269 188.5h7M261 189.5h2M267 189.5h2M259 190.5h2M263 190.5h4M257 191.5h2M256 192.5h1M254 193.5h2M253 194.5h1M104 195.5h2M252 195.5h1M101 196.5h3M107 198.5h1M250 198.5h1M99 199.5h1M248 199.5h2M565 199.5h2M245 200.5h3M563 200.5h2M567 200.5h3M637 200.5h6M562 201.5h1M570 201.5h2M643 201.5h3M572 202.5h2M646 202.5h1M243 203.5h1M574 203.5h2M647 203.5h2M576 204.5h2M649 204.5h1M578 205.5h1M650 205.5h1M241 206.5h1M601 206.5h1M651 206.5h2M240 207.5h1M585 207.5h2M592 207.5h3M599 207.5h2M602 207.5h2M633 207.5h1M653 207.5h1M238 208.5h2M580 208.5h1M583 208.5h2M587 208.5h5M595 208.5h4M604 208.5h6M632 208.5h1M654 208.5h1M237 209.5h1M581 209.5h2M610 209.5h1M630 209.5h2M655 209.5h1M236 210.5h1M611 210.5h1M629 210.5h1M656 210.5h1M612 211.5h1M628 211.5h1M657 211.5h2M613 212.5h1M626 212.5h2M659 212.5h3M234 213.5h1M614 213.5h2M624 213.5h2M662 213.5h1M229 214.5h5M616 214.5h8M663 214.5h2M228 215.5h1M665 215.5h1M227 216.5h1M666 216.5h1M226 217.5h1M667 217.5h1M225 218.5h1M668 218.5h1M224 219.5h1M669 219.5h1M670 220.5h1M671 221.5h1M88 222.5h1M222 222.5h1M672 222.5h1M86 223.5h2M221 223.5h1M673 223.5h1M85 224.5h1M674 224.5h1M83 225.5h2M82 226.5h1M137 226.5h2M219 226.5h1M135 227.5h2M139 227.5h3M676 227.5h1M133 228.5h2M142 228.5h1M677 228.5h1M143 229.5h1M217 229.5h1M678 229.5h1M144 230.5h1M216 230.5h1M679 230.5h2M131 231.5h1M215 231.5h1M681 231.5h1M214 232.5h1M213 233.5h1M122 234.5h1M129 234.5h1M212 234.5h1M683 234.5h1M128 235.5h1M127 236.5h1M124 237.5h1M126 237.5h1M210 237.5h1M685 237.5h1M125 238.5h1M209 238.5h1M686 238.5h1M208 239.5h1M687 239.5h1M206 240.5h2M688 240.5h1M205 241.5h1M689 241.5h1M690 242.5h2M692 243.5h2M203 244.5h1M486 244.5h2M694 244.5h2M488 245.5h6M521 245.5h1M696 245.5h2M494 246.5h2M519 246.5h2M522 246.5h1M200 247.5h2M496 247.5h2M516 247.5h3M197 248.5h3M498 248.5h1M513 248.5h3M196 249.5h1M499 249.5h1M511 249.5h2M524 249.5h1M500 250.5h1M508 250.5h3M525 250.5h1M501 251.5h7M194 252.5h1M701 252.5h2M193 253.5h1M527 253.5h1M703 253.5h4M764 253.5h2M540 254.5h1M707 254.5h4M761 254.5h3M538 255.5h2M711 255.5h3M760 255.5h1M529 256.5h1M537 256.5h1M714 256.5h2M530 257.5h1M536 257.5h1M716 257.5h2M531 258.5h1M535 258.5h1M718 258.5h1M758 258.5h1M532 259.5h1M534 259.5h1M719 259.5h1M757 259.5h1M189 260.5h1M533 260.5h1M720 260.5h1M188 261.5h1M721 261.5h1M158 262.5h1M722 262.5h1M755 262.5h1M770 262.5h1M723 263.5h2M771 263.5h1M186 264.5h1M725 264.5h1M772 264.5h1M160 265.5h1M185 265.5h1M726 265.5h1M753 265.5h1M773 265.5h1M161 266.5h1M184 266.5h1M727 266.5h1M752 266.5h1M182 267.5h2M728 267.5h1M751 267.5h1M181 268.5h1M729 268.5h1M750 268.5h1M775 268.5h1M163 269.5h1M180 269.5h1M730 269.5h1M173 270.5h2M178 270.5h2M171 271.5h2M175 271.5h3M777 271.5h1M165 272.5h6M732 272.5h1M778 272.5h1M733 273.5h1M779 273.5h1M734 274.5h1M780 274.5h1M735 275.5h2M781 275.5h2M737 276.5h2M783 276.5h3M739 277.5h7M786 277.5h1M787 278.5h1M788 279.5h1M789 280.5h1M790 281.5h1M792 284.5h1M1 289.5h1M2 290.5h1M3 291.5h2M17 291.5h1M5 292.5h1M15 292.5h2M18 292.5h2M6 293.5h2M12 293.5h3M20 293.5h6M8 294.5h4M26 294.5h1M27 295.5h1M28 296.5h1M29 297.5h1M30 298.5h1M32 301.5h1M33 302.5h1M35 305.5h1M53 307.5h1M37 308.5h1M52 308.5h1M38 309.5h1M39 310.5h2M41 311.5h1M50 311.5h1M42 312.5h2M48 312.5h2M44 313.5h4M822 372.5h1M823 373.5h2M825 374.5h1M849 376.5h5M827 377.5h1M854 377.5h1M855 378.5h2M847 379.5h1M857 379.5h1M829 380.5h2M858 380.5h2M831 381.5h3M860 381.5h2M834 382.5h2M845 382.5h1M862 382.5h1M836 383.5h3M843 383.5h2M863 383.5h2M989 383.5h1M839 384.5h4M865 384.5h1M988 384.5h1M990 384.5h1M986 385.5h2M991 385.5h2M985 386.5h1M993 386.5h1M984 387.5h1M994 387.5h1M982 388.5h2M995 388.5h2M981 389.5h1M997 389.5h5M979 390.5h2M1002 390.5h2M977 391.5h2M1004 391.5h2M1006 392.5h1M870 393.5h1M871 394.5h1M975 394.5h1M872 395.5h1M1008 395.5h1M873 396.5h1M874 397.5h2M876 398.5h2M1102 400.5h4M1106 401.5h1M1107 402.5h2M1109 403.5h1M969 405.5h1M1014 407.5h1M1097 408.5h1M1096 409.5h1M1016 410.5h1M1095 410.5h1M1113 410.5h1M1133 410.5h1M1094 411.5h1M1114 411.5h1M1132 411.5h1M1134 411.5h2M965 412.5h1M1093 412.5h1M1115 412.5h2M1130 412.5h2M1136 412.5h2M963 413.5h2M1092 413.5h1M1117 413.5h1M1129 413.5h1M1138 413.5h1M962 414.5h1M1091 414.5h1M1118 414.5h2M1128 414.5h1M1090 415.5h1M1120 415.5h3M1126 415.5h2M1089 416.5h1M1123 416.5h3M1140 416.5h1M1088 417.5h1M1141 417.5h1M1087 418.5h1M1142 418.5h1M1086 419.5h1M1143 419.5h2M1172 419.5h2M886 420.5h1M1085 420.5h1M1145 420.5h1M1168 420.5h4M1174 420.5h2M1084 421.5h1M1146 421.5h1M1165 421.5h3M1176 421.5h1M1083 422.5h1M1147 422.5h2M1163 422.5h2M888 423.5h1M1082 423.5h1M1149 423.5h1M1161 423.5h2M889 424.5h1M1081 424.5h1M1150 424.5h1M1159 424.5h2M890 425.5h1M1079 425.5h2M1151 425.5h1M1157 425.5h2M1078 426.5h1M1152 426.5h1M1155 426.5h2M1153 427.5h2M892 428.5h1M893 429.5h1M894 430.5h1M895 431.5h1M896 432.5h1M897 433.5h1M898 434.5h1M899 435.5h2M901 436.5h2M903 437.5h3M906 438.5h1M907 439.5h1M908 440.5h1M909 441.5h1M910 442.5h1M911 443.5h1M912 444.5h1M913 445.5h1M947 445.5h2M946 446.5h1M915 448.5h1M921 448.5h1M920 449.5h1M922 449.5h1M929 449.5h6M1190 449.5h1M918 450.5h2M923 450.5h2M927 450.5h2M935 450.5h3M1045 450.5h5M1067 450.5h1M917 451.5h1M925 451.5h2M938 451.5h1M1044 451.5h1M1050 451.5h2M939 452.5h1M1052 452.5h2M1192 452.5h1M940 453.5h1M1065 453.5h1M1193 453.5h1M1209 453.5h5M941 454.5h1M1031 454.5h1M1042 454.5h1M1064 454.5h1M1194 454.5h1M1208 454.5h1M1214 454.5h1M1041 455.5h1M1055 455.5h1M1207 455.5h1M1206 456.5h1M1033 457.5h1M1062 457.5h1M1196 457.5h1M1204 457.5h2M1216 457.5h1M1034 458.5h1M1039 458.5h1M1057 458.5h5M1197 458.5h7M1217 458.5h1M1035 459.5h1M1218 459.5h1M1036 460.5h1M1219 460.5h2M1037 461.5h1M1221 461.5h1M1222 462.5h1M1223 463.5h1M1224 464.5h1M1247 526.5h1M1255 543.5h1M1276 545.5h6M1257 546.5h1M1273 546.5h3M1283 548.5h1M1285 551.5h1M1286 552.5h1M1269 553.5h1M1268 554.5h1M1262 555.5h1M1288 555.5h1M1301 555.5h1M1263 556.5h1M1289 556.5h1M1264 557.5h1M1266 557.5h1M1290 557.5h1M1265 558.5h1M1291 558.5h2M1299 558.5h1M1293 559.5h1M1294 560.5h2M1296 561.5h2" fill="none" stroke="#ffa500" stroke-width="1" shape-rendering="crispEdges"/>
<line x1="2" x2="1637" y1="627.5" y2="627.5" stroke="#c0c0c0" stroke-dasharray="3 3" shape-rendering="crispEdges"/>
<line x1="2" x2="1637" y1="668.5" y2="668.5" stroke="#c0c0c0" stroke-dasharray="3 3" shape-rendering="crispEdges"/>
<path d="M2.5 643v2M3.5 645v2M4.5 647v2M26.5 652v2M28.5 655v2M38.5 659v2M39.5 657v2M40.5 655v2M49.5 651v2M50.5 649v2M51.5 646v3M52.5 644v2M53.5 642v2M54.5 640v2M55.5 638v2M56.5 636v2M61.5 630v2M62.5 627v3M63.5 625v2M64.5 622v3M65.5 620v2M90.5 621v2M92.5 618v2M102.5 624v2M104.5 627v2M105.5 629v3M106.5 632v4M107.5 636v4M108.5 640v4M109.5 644v3M137.5 641v2M138.5 643v2M139.5 645v2M140.5 647v2M141.5 649v2M146.5 651v2M147.5 653v2M148.5 655v2M149.5 657v2M154.5 658v2M155.5 656v2M156.5 654v2M186.5 649v2M187.5 647v2M188.5 645v2M199.5 645v2M202.5 646v2M204.5 643v2M235.5 634v2M242.5 634v2M244.5 631v2M246.5 631v2M247.5 633v2M248.5 635v2M259.5 634v2M322.5 620v2M324.5 617v2M329.5 615v2M330.5 617v2M331.5 619v2M332.5 621v2M333.5 623v2M335.5 621v2M338.5 620v2M340.5 623v2M377.5 615v2M378.5 617v2M379.5 619v3M380.5 622v2M381.5 624v2M389.5 626v2M390.5 628v2M391.5 630v3M392.5 633v2M393.5 635v2M405.5 638v2M406.5 640v3M407.5 643v2M408.5 645v3M409.5 648v2M411.5 651v2M414.5 655v2M416.5 658v2M418.5 661v2M419.5 663v2M420.5 665v2M421.5 667v2M422.5 666v2M424.5 663v2M442.5 660v2M444.5 657v2M446.5 657v2M447.5 659v2M448.5 661v2M463.5 663v2M466.5 667v2M467.5 669v2M468.5 671v2M469.5 673v2M501.5 673v2M502.5 670v3M503.5 667v3M504.5 664v3M505.5 662v2M531.5 666v2M533.5 663v2M534.5 660v3M535.5 658v2M536.5 655v3M537.5 653v2M542.5 651v2M544.5 648v2M546.5 645v2M547.5 643v2M548.5 641v2M561.5 636v2M562.5 638v2M563.5 640v3M564.5 643v2M565.5 645v2M578.5 643v2M580.5 646v2M583.5 645v2M603.5 646v2M618.5 648v2M620.5 645v2M634.5 643v2M635.5 641v2M636.5 639v2M637.5 637v2M638.5 638v2M639.5 640v2M640.5 642v2M643.5 646v2M661.5 646v2M662.5 648v2M663.5 650v2M664.5 652v2M665.5 654v2M681.5 651v2M682.5 653v3M683.5 656v2M684.5 658v3M685.5 661v2M698.5 656v2M700.5 659v2M718.5 659v2M720.5 662v2M745.5 659v3M746.5 654v5M747.5 650v4M748.5 645v5M749.5 642v3M750.5 643v2M752.5 646v2M762.5 650v2M764.5 653v2M786.5 657v2M788.5 660v2M794.5 664v2M796.5 667v2M802.5 671v2M804.5 674v2M831.5 675v2M841.5 672v2M842.5 669v3M843.5 665v4M844.5 662v3M845.5 660v2M851.5 663v2M861.5 668v2M862.5 665v3M863.5 662v3M864.5 659v3M865.5 657v2M866.5 658v2M867.5 660v2M868.5 662v2M869.5 664v2M879.5 668v2M898.5 666v2M900.5 669v2M903.5 668v2M918.5 666v2M920.5 663v2M926.5 663v2M927.5 661v2M928.5 659v2M941.5 661v3M942.5 657v4M943.5 653v4M944.5 649v4M945.5 646v3M947.5 648v2M950.5 649v2M951.5 647v2M952.5 645v2M953.5 643v2M970.5 640v2M971.5 638v2M972.5 636v2M973.5 634v2M975.5 636v2M995.5 641v2M1010.5 651v2M1012.5 654v2M1017.5 652v2M1018.5 654v3M1019.5 657v3M1020.5 660v3M1021.5 663v2M1026.5 663v2M1028.5 660v2M1034.5 658v2M1035.5 656v2M1036.5 654v2M1057.5 659v2M1058.5 656v3M1059.5 653v3M1060.5 650v3M1061.5 648v2M1070.5 646v2M1071.5 644v2M1072.5 642v2M1082.5 645v2M1083.5 643v2M1084.5 641v2M1091.5 640v2M1106.5 643v2M1107.5 645v2M1108.5 647v2M1109.5 649v2M1115.5 647v2M1135.5 647v2M1154.5 651v2M1155.5 649v2M1156.5 647v2M1157.5 645v2M1177.5 650v2M1178.5 652v3M1179.5 655v3M1180.5 658v3M1181.5 661v2M1190.5 662v2M1191.5 660v2M1192.5 658v2M1193.5 656v2M1214.5 655v2M1215.5 657v2M1216.5 659v2M1225.5 660v2M1226.5 662v3M1227.5 665v2M1228.5 667v3M1229.5 670v2M1230.5 669v2M1232.5 666v2M1235.5 667v2M1261.5 673v2M1262.5 671v2M1263.5 668v3M1264.5 666v2M1265.5 663v3M1266.5 661v2M1267.5 659v2M1268.5 657v2M1269.5 655v2M1274.5 657v2M1275.5 659v2M1276.5 661v2M1285.5 666v2M1286.5 664v2M1287.5 661v3M1288.5 659v2M1289.5 657v2M1295.5 656v2M1298.5 657v2M1300.5 654v2M328 615.5h1M376 615.5h1M325 616.5h3M373 616.5h3M93 617.5h1M372 617.5h1M94 618.5h2M370 618.5h2M96 619.5h2M323 619.5h1M337 619.5h1M368 619.5h2M91 620.5h1M98 620.5h1M336 620.5h1M361 620.5h7M66 621.5h1M84 621.5h2M99 621.5h1M360 621.5h1M67 622.5h2M81 622.5h3M86 622.5h2M100 622.5h1M321 622.5h1M339 622.5h1M348 622.5h2M358 622.5h2M69 623.5h1M80 623.5h1M88 623.5h2M101 623.5h1M319 623.5h2M334 623.5h1M345 623.5h3M350 623.5h2M356 623.5h2M70 624.5h1M78 624.5h2M316 624.5h3M343 624.5h2M352 624.5h4M71 625.5h2M76 625.5h2M313 625.5h3M341 625.5h2M382 625.5h5M73 626.5h3M103 626.5h1M311 626.5h2M387 626.5h2M309 627.5h2M307 628.5h2M305 629.5h2M245 630.5h1M304 630.5h1M303 631.5h1M60 632.5h1M237 632.5h1M257 632.5h1M302 632.5h1M59 633.5h1M236 633.5h1M238 633.5h1M243 633.5h1M256 633.5h1M258 633.5h1M277 633.5h1M301 633.5h1M58 634.5h1M229 634.5h1M239 634.5h1M254 634.5h2M276 634.5h1M278 634.5h1M289 634.5h6M299 634.5h2M57 635.5h1M213 635.5h1M227 635.5h2M230 635.5h1M240 635.5h1M253 635.5h1M274 635.5h2M279 635.5h2M287 635.5h2M295 635.5h4M974 635.5h1M212 636.5h1M214 636.5h1M225 636.5h2M231 636.5h2M234 636.5h1M241 636.5h1M251 636.5h2M260 636.5h1M264 636.5h3M272 636.5h2M281 636.5h6M560 636.5h1M211 637.5h1M215 637.5h2M223 637.5h2M233 637.5h1M249 637.5h2M261 637.5h3M267 637.5h5M394 637.5h1M557 637.5h3M133 638.5h1M210 638.5h1M217 638.5h6M395 638.5h1M555 638.5h2M976 638.5h1M1093 638.5h2M1100 638.5h2M131 639.5h2M134 639.5h1M209 639.5h1M396 639.5h1M404 639.5h1M552 639.5h3M977 639.5h1M993 639.5h1M1092 639.5h1M1095 639.5h5M1102 639.5h1M129 640.5h2M135 640.5h2M193 640.5h1M208 640.5h1M397 640.5h2M402 640.5h2M549 640.5h3M978 640.5h1M991 640.5h2M994 640.5h1M1085 640.5h1M1103 640.5h1M127 641.5h2M192 641.5h1M194 641.5h1M206 641.5h2M399 641.5h3M979 641.5h1M989 641.5h2M1073 641.5h1M1086 641.5h1M1104 641.5h1M1121 641.5h1M1 642.5h1M125 642.5h2M191 642.5h1M195 642.5h2M205 642.5h1M576 642.5h2M629 642.5h1M968 642.5h2M980 642.5h1M987 642.5h2M1074 642.5h1M1087 642.5h2M1090 642.5h1M1105 642.5h1M1120 642.5h1M1122 642.5h1M124 643.5h1M190 643.5h1M197 643.5h1M573 643.5h3M585 643.5h1M593 643.5h1M628 643.5h1M630 643.5h1M961 643.5h7M981 643.5h6M996 643.5h1M1075 643.5h2M1089 643.5h1M1119 643.5h1M1123 643.5h2M16 644.5h2M117 644.5h2M122 644.5h2M189 644.5h1M198 644.5h1M571 644.5h2M584 644.5h1M586 644.5h1M592 644.5h1M594 644.5h1M601 644.5h1M621 644.5h2M626 644.5h2M631 644.5h2M641 644.5h1M954 644.5h1M960 644.5h1M997 644.5h2M1077 644.5h1M1118 644.5h1M1125 644.5h1M13 645.5h3M18 645.5h1M116 645.5h1M119 645.5h3M203 645.5h1M568 645.5h3M579 645.5h1M587 645.5h1M591 645.5h1M595 645.5h2M599 645.5h2M602 645.5h1M623 645.5h3M633 645.5h1M642 645.5h1M751 645.5h1M955 645.5h2M958 645.5h2M999 645.5h3M1065 645.5h1M1078 645.5h1M1117 645.5h1M1126 645.5h1M1133 645.5h1M1158 645.5h1M11 646.5h2M19 646.5h1M110 646.5h1M114 646.5h2M566 646.5h2M588 646.5h1M590 646.5h1M597 646.5h2M660 646.5h1M757 646.5h1M957 646.5h1M1002 646.5h2M1064 646.5h1M1066 646.5h1M1079 646.5h2M1116 646.5h1M1127 646.5h2M1131 646.5h2M1134 646.5h1M1159 646.5h4M9 647.5h2M20 647.5h1M111 647.5h3M200 647.5h1M545 647.5h1M582 647.5h1M589 647.5h1M619 647.5h1M657 647.5h3M755 647.5h2M758 647.5h1M946 647.5h1M1004 647.5h2M1062 647.5h2M1067 647.5h2M1081 647.5h1M1129 647.5h2M1163 647.5h4M7 648.5h2M21 648.5h1M181 648.5h1M201 648.5h1M581 648.5h1M604 648.5h1M608 648.5h2M644 648.5h1M656 648.5h1M753 648.5h2M759 648.5h2M1006 648.5h1M1069 648.5h1M1167 648.5h3M5 649.5h2M22 649.5h1M180 649.5h1M182 649.5h1M605 649.5h3M610 649.5h1M645 649.5h1M655 649.5h1M761 649.5h1M1007 649.5h2M1114 649.5h1M1136 649.5h1M1140 649.5h3M1170 649.5h1M23 650.5h2M142 650.5h4M179 650.5h1M183 650.5h2M410 650.5h1M543 650.5h1M611 650.5h1M617 650.5h1M646 650.5h2M654 650.5h1M948 650.5h1M1009 650.5h1M1110 650.5h4M1137 650.5h3M1143 650.5h4M1171 650.5h2M1176 650.5h1M25 651.5h1M178 651.5h1M185 651.5h1M612 651.5h1M615 651.5h2M648 651.5h6M949 651.5h1M1147 651.5h3M1173 651.5h3M177 652.5h1M613 652.5h2M680 652.5h1M763 652.5h1M1040 652.5h2M1150 652.5h2M47 653.5h2M157 653.5h1M176 653.5h1M412 653.5h1M538 653.5h4M679 653.5h1M1011 653.5h1M1016 653.5h1M1037 653.5h3M1042 653.5h1M1152 653.5h2M1208 653.5h3M1301 653.5h1M27 654.5h1M41 654.5h6M158 654.5h1M169 654.5h2M174 654.5h2M413 654.5h1M678 654.5h1M773 654.5h1M1015 654.5h1M1043 654.5h1M1197 654.5h1M1205 654.5h3M1211 654.5h3M1293 654.5h1M159 655.5h2M168 655.5h1M171 655.5h3M677 655.5h1M697 655.5h1M765 655.5h1M772 655.5h1M774 655.5h2M780 655.5h3M1014 655.5h1M1044 655.5h1M1195 655.5h2M1198 655.5h1M1204 655.5h1M1270 655.5h1M1292 655.5h1M1294 655.5h1M161 656.5h2M166 656.5h2M433 656.5h1M445 656.5h1M666 656.5h2M676 656.5h1M696 656.5h1M713 656.5h1M766 656.5h2M770 656.5h2M776 656.5h4M783 656.5h3M1013 656.5h1M1045 656.5h1M1194 656.5h1M1199 656.5h1M1203 656.5h1M1271 656.5h3M1290 656.5h2M1299 656.5h1M29 657.5h1M163 657.5h3M415 657.5h1M431 657.5h2M434 657.5h1M668 657.5h2M675 657.5h1M694 657.5h2M712 657.5h1M714 657.5h2M768 657.5h2M1046 657.5h2M1200 657.5h1M1202 657.5h1M30 658.5h1M429 658.5h2M435 658.5h1M670 658.5h2M674 658.5h1M693 658.5h1M699 658.5h1M710 658.5h2M716 658.5h2M929 658.5h1M1048 658.5h2M1201 658.5h1M1296 658.5h1M31 659.5h2M150 659.5h2M428 659.5h1M436 659.5h1M443 659.5h1M672 659.5h2M692 659.5h1M709 659.5h1M787 659.5h1M930 659.5h1M1029 659.5h2M1050 659.5h2M1297 659.5h1M33 660.5h2M152 660.5h2M417 660.5h1M427 660.5h1M437 660.5h1M456 660.5h3M691 660.5h1M707 660.5h2M846 660.5h1M931 660.5h1M1031 660.5h3M1052 660.5h5M35 661.5h3M426 661.5h1M438 661.5h2M453 661.5h3M459 661.5h3M512 661.5h2M690 661.5h1M701 661.5h6M719 661.5h1M733 661.5h5M847 661.5h3M932 661.5h1M1184 661.5h2M1217 661.5h2M1223 661.5h2M425 662.5h1M440 662.5h2M451 662.5h2M462 662.5h1M506 662.5h6M514 662.5h1M686 662.5h4M732 662.5h1M738 662.5h1M744 662.5h1M789 662.5h2M850 662.5h1M921 662.5h1M933 662.5h2M1027 662.5h1M1182 662.5h2M1186 662.5h1M1219 662.5h4M449 663.5h2M515 663.5h1M731 663.5h1M739 663.5h2M742 663.5h2M791 663.5h3M922 663.5h1M935 663.5h6M1187 663.5h2M1277 663.5h1M516 664.5h1M721 664.5h2M730 664.5h1M741 664.5h1M923 664.5h2M1022 664.5h1M1189 664.5h1M1278 664.5h2M423 665.5h1M464 665.5h1M517 665.5h2M532 665.5h1M723 665.5h7M852 665.5h1M870 665.5h5M897 665.5h1M919 665.5h1M925 665.5h1M1023 665.5h3M1233 665.5h1M1280 665.5h2M465 666.5h1M519 666.5h3M795 666.5h1M853 666.5h1M875 666.5h3M895 666.5h2M905 666.5h1M913 666.5h1M1234 666.5h1M1282 666.5h2M522 667.5h2M854 667.5h1M878 667.5h1M893 667.5h2M904 667.5h1M906 667.5h2M911 667.5h2M914 667.5h2M1284 667.5h1M524 668.5h3M530 668.5h1M855 668.5h2M891 668.5h2M899 668.5h1M908 668.5h3M916 668.5h2M1231 668.5h1M1241 668.5h5M485 669.5h1M527 669.5h3M797 669.5h2M857 669.5h4M889 669.5h2M1236 669.5h1M1239 669.5h2M1246 669.5h1M484 670.5h1M486 670.5h2M799 670.5h3M880 670.5h1M888 670.5h1M902 670.5h1M1237 670.5h2M1247 670.5h2M483 671.5h1M488 671.5h3M881 671.5h2M886 671.5h2M901 671.5h1M1249 671.5h1M482 672.5h1M491 672.5h3M883 672.5h3M1250 672.5h1M480 673.5h2M494 673.5h2M803 673.5h1M833 673.5h8M1251 673.5h2M1256 673.5h3M477 674.5h3M496 674.5h5M832 674.5h1M1253 674.5h3M1259 674.5h2M470 675.5h2M475 675.5h2M825 675.5h1M472 676.5h3M805 676.5h5M824 676.5h1M826 676.5h1M810 677.5h2M822 677.5h2M827 677.5h2M830 677.5h1M812 678.5h10M829 678.5h1" fill="none" stroke="#1e90ff" stroke-width="1" shape-rendering="crispEdges"/>
<g><rect x="1" y="741" width="1" height="10" fill="#c0c0c0"/><rect x="5" y="743" width="1" height="8" fill="#c0c0c0"/><rect x="9" y="744" width="1" height="7" fill="#c0c0c0"/><rect x="13" y="745" width="1" height="6" fill="#c0c0c0"/><rect x="17" y="745" width="1" height="6" fill="#c0c0c0"/><rect x="21" y="746" width="1" height="5" fill="#c0c0c0"/><rect x="25" y="747" width="1" height="4" fill="#c0c0c0"/><rect x="29" y="750" width="1" height="1" fill="#c0c0c0"/><rect x="33" y="750" width="1" height="3" fill="#c0c0c0"/><rect x="37" y="750" width="1" height="5" fill="#c0c0c0"/><rect x="41" y="750" width="1" height="6" fill="#c0c0c0"/><rect x="45" y="750" width="1" height="6" fill="#c0c0c0"/><rect x="49" y="750" width="1" height="6" fill="#c0c0c0"/><rect x="53" y="750" width="1" height="5" fill="#c0c0c0"/><rect x="57" y="750" width="1" height="1" fill="#c0c0c0"/><rect x="61" y="747" width="1" height="4" fill="#c0c0c0"/><rect x="65" y="739" width="1" height="12" fill="#c0c0c0"/><rect x="69" y="734" width="1" height="17" fill="#c0c0c0"/><rect x="73" y="730" width="1" height="21" fill="#c0c0c0"/><rect x="77" y="727" width="1" height="24" fill="#c0c0c0"/><rect x="81" y="724" width="1" height="27" fill="#c0c0c0"/><rect x="85" y="721" width="1" height="30" fill="#c0c0c0"/><rect x="89" y="719" width="1" height="32" fill="#c0c0c0"/><rect x="93" y="714" width="1" height="37" fill="#c0c0c0"/><rect x="97" y="712" width="1" height="39" fill="#c0c0c0"/><rect x="101" y="711" width="1" height="40" fill="#c0c0c0"/><rect x="105" y="711" width="1" height="40" fill="#c0c0c0"/><rect x="109" y="717" width="1" height="34" fill="#c0c0c0"/><rect x="113" y="722" width="1" height="29" fill="#c0c0c0"/><rect x="117" y="725" width="1" height="26" fill="#c0c0c0"/><rect x="121" y="729" width="1" height="22" fill="#c0c0c0"/><rect x="125" y="730" width="1" height="21" fill="#c0c0c0"/><rect x="129" y="731" width="1" height="20" fill="#c0c0c0"/><rect x="133" y="731" width="1" height="20" fill="#c0c0c0"/><rect x="137" y="732" width="1" height="19" fill="#c0c0c0"/><rect x="141" y="736" width="1" height="15" fill="#c0c0c0"/><rect x="145" y="739" width="1" height="12" fill="#c0c0c0"/><rect x="149" y="744" width="1" height="7" fill="#c0c0c0"/><rect x="153" y="749" width="1" height="2" fill="#c0c0c0"/><rect x="157" y="750" width="1" height="2" fill="#c0c0c0"/><rect x="161" y="750" width="1" height="5" fill="#c0c0c0"/><rect x="165" y="750" width="1" height="8" fill="#c0c0c0"/><rect x="169" y="750" width="1" height="9" fill="#c0c0c0"/><rect x="173" y="750" width="1" height="10" fill="#c0c0c0"/><rect x="177" y="750" width="1" height="10" fill="#c0c0c0"/><rect x="181" y="750" width="1" height="9" fill="#c0c0c0"/><rect x="185" y="750" width="1" height="9" fill="#c0c0c0"/><rect x="189" y="750" width="1" height="6" fill="#c0c0c0"/><rect x="193" y="750" width="1" height="3" fill="#c0c0c0"/><rect x="197" y="750" width="1" height="2" fill="#c0c0c0"/><rect x="201" y="750" width="1" height="2" fill="#c0c0c0"/><rect x="205" y="749" width="1" height="2" fill="#c0c0c0"/><rect x="209" y="746" width="1" height="5" fill="#c0c0c0"/><rect x="213" y="743" width="1" height="8" fill="#c0c0c0"/><rect x="217" y="741" width="1" height="10" fill="#c0c0c0"/><rect x="221" y="739" width="1" height="12" fill="#c0c0c0"/><rect x="225" y="738" width="1" height="13" fill="#c0c0c0"/><rect x="229" y="736" width="1" height="15" fill="#c0c0c0"/><rect x="233" y="735" width="1" height="16" fill="#c0c0c0"/><rect x="237" y="733" width="1" height="18" fill="#c0c0c0"/><rect x="241" y="732" width="1" height="19" fill="#c0c0c0"/><rect x="245" y="730" width="1" height="21" fill="#c0c0c0"/><rect x="249" y="729" width="1" height="22" fill="#c0c0c0"/><rect x="253" y="729" width="1" height="22" fill="#c0c0c0"/><rect x="257" y="727" width="1" height="24" fill="#c0c0c0"/><rect x="261" y="728" width="1" height="23" fill="#c0c0c0"/><rect x="265" y="728" width="1" height="23" fill="#c0c0c0"/><rect x="269" y="729" width="1" height="22" fill="#c0c0c0"/><rect x="273" y="729" width="1" height="22" fill="#c0c0c0"/><rect x="277" y="728" width="1" height="23" fill="#c0c0c0"/><rect x="281" y="729" width="1" height="22" fill="#c0c0c0"/><rect x="285" y="729" width="1" height="22" fill="#c0c0c0"/><rect x="289" y="729" width="1" height="22" fill="#c0c0c0"/><rect x="293" y="730" width="1" height="21" fill="#c0c0c0"/><rect x="297" y="730" width="1" height="21" fill="#c0c0c0"/><rect x="301" y="730" width="1" height="21" fill="#c0c0c0"/><rect x="305" y="729" width="1" height="22" fill="#c0c0c0"/><rect x="309" y="728" width="1" height="23" fill="#c0c0c0"/><rect x="313" y="727" width="1" height="24" fill="#c0c0c0"/><rect x="317" y="726" width="1" height="25" fill="#c0c0c0"/><rect x="321" y="724" width="1" height="27" fill="#c0c0c0"/><rect x="325" y="721" width="1" height="30" fill="#c0c0c0"/><rect x="329" y="718" width="1" height="33" fill="#c0c0c0"/><rect x="333" y="717" width="1" height="34" fill="#c0c0c0"/><rect x="337" y="714" width="1" height="37" fill="#c0c0c0"/><rect x="341" y="713" width="1" height="38" fill="#c0c0c0"/><rect x="345" y="712" width="1" height="39" fill="#c0c0c0"/><rect x="349" y="711" width="1" height="40" fill="#c0c0c0"/><rect x="353" y="711" width="1" height="40" fill="#c0c0c0"/><rect x="357" y="711" width="1" height="40" fill="#c0c0c0"/><rect x="361" y="711" width="1" height="40" fill="#c0c0c0"/><rect x="365" y="711" width="1" height="40" fill="#c0c0c0"/><rect x="369" y="711" width="1" height="40" fill="#c0c0c0"/><rect x="373" y="709" width="1" height="42" fill="#c0c0c0"/><rect x="377" y="708" width="1" height="43" fill="#c0c0c0"/><rect x="381" y="709" width="1" height="42" fill="#c0c0c0"/><rect x="385" y="710" width="1" height="41" fill="#c0c0c0"/><rect x="389" y="712" width="1" height="39" fill="#c0c0c0"/><rect x="393" y="715" width="1" height="36" fill="#c0c0c0"/><rect x="397" y="719" width="1" height="32" fill="#c0c0c0"/><rect x="401" y="722" width="1" height="29" fill="#c0c0c0"/><rect x="405" y="725" width="1" height="26" fill="#c0c0c0"/><rect x="409" y="729" width="1" height="22" fill="#c0c0c0"/><rect x="413" y="734" width="1" height="17" fill="#c0c0c0"/><rect x="417" y="740" width="1" height="11" fill="#c0c0c0"/><rect x="421" y="748" width="1" height="3" fill="#c0c0c0"/><rect x="425" y="750" width="1" height="4" fill="#c0c0c0"/><rect x="429" y="750" width="1" height="7" fill="#c0c0c0"/><rect x="433" y="750" width="1" height="9" fill="#c0c0c0"/><rect x="437" y="750" width="1" height="11" fill="#c0c0c0"/><rect x="441" y="750" width="1" height="14" fill="#c0c0c0"/><rect x="445" y="750" width="1" height="15" fill="#c0c0c0"/><rect x="449" y="750" width="1" height="18" fill="#c0c0c0"/><rect x="453" y="750" width="1" height="20" fill="#c0c0c0"/><rect x="457" y="750" width="1" height="21" fill="#c0c0c0"/><rect x="461" y="750" width="1" height="22" fill="#c0c0c0"/><rect x="465" y="750" width="1" height="25" fill="#c0c0c0"/><rect x="469" y="750" width="1" height="31" fill="#c0c0c0"/><rect x="473" y="750" width="1" height="38" fill="#c0c0c0"/><rect x="477" y="750" width="1" height="43" fill="#c0c0c0"/><rect x="481" y="750" width="1" height="45" fill="#c0c0c0"/><rect x="485" y="750" width="1" height="46" fill="#c0c0c0"/><rect x="489" y="750" width="1" height="47" fill="#c0c0c0"/><rect x="493" y="750" width="1" height="47" fill="#c0c0c0"/><rect x="497" y="750" width="1" height="49" fill="#c0c0c0"/><rect x="501" y="750" width="1" height="49" fill="#c0c0c0"/><rect x="505" y="750" width="1" height="47" fill="#c0c0c0"/><rect x="509" y="750" width="1" height="44" fill="#c0c0c0"/><rect x="513" y="750" width="1" height="42" fill="#c0c0c0"/><rect x="517" y="750" width="1" height="41" fill="#c0c0c0"/><rect x="521" y="750" width="1" height="40" fill="#c0c0c0"/><rect x="525" y="750" width="1" height="40" fill="#c0c0c0"/><rect x="529" y="750" width="1" height="40" fill="#c0c0c0"/><rect x="533" y="750" width="1" height="38" fill="#c0c0c0"/><rect x="537" y="750" width="1" height="34" fill="#c0c0c0"/><rect x="541" y="750" width="1" height="30" fill="#c0c0c0"/><rect x="545" y="750" width="1" height="25" fill="#c0c0c0"/><rect x="549" y="750" width="1" height="19" fill="#c0c0c0"/><rect x="553" y="750" width="1" height="13" fill="#c0c0c0"/><rect x="557" y="750" width="1" height="8" fill="#c0c0c0"/><rect x="561" y="750" width="1" height="4" fill="#c0c0c0"/><rect x="565" y="750" width="1" height="3" fill="#c0c0c0"/><rect x="569" y="750" width="1" height="2" fill="#c0c0c0"/><rect x="573" y="749" width="1" height="2" fill="#c0c0c0"/><rect x="577" y="748" width="1" height="3" fill="#c0c0c0"/><rect x="581" y="748" width="1" height="3" fill="#c0c0c0"/><rect x="585" y="747" width="1" height="4" fill="#c0c0c0"/><rect x="589" y="748" width="1" height="3" fill="#c0c0c0"/><rect x="593" y="747" width="1" height="4" fill="#c0c0c0"/><rect x="597" y="747" width="1" height="4" fill="#c0c0c0"/><rect x="601" y="746" width="1" height="5" fill="#c0c0c0"/><rect x="605" y="747" width="1" height="4" fill="#c0c0c0"/><rect x="609" y="748" width="1" height="3" fill="#c0c0c0"/><rect x="613" y="749" width="1" height="2" fill="#c0c0c0"/><rect x="617" y="750" width="1" height="1" fill="#c0c0c0"/><rect x="621" y="749" width="1" height="2" fill="#c0c0c0"/><rect x="625" y="748" width="1" height="3" fill="#c0c0c0"/><rect x="629" y="747" width="1" height="4" fill="#c0c0c0"/><rect x="633" y="747" width="1" height="4" fill="#c0c0c0"/><rect x="637" y="745" width="1" height="6" fill="#c0c0c0"/><rect x="641" y="745" width="1" height="6" fill="#c0c0c0"/><rect x="645" y="746" width="1" height="5" fill="#c0c0c0"/><rect x="649" y="748" width="1" height="3" fill="#c0c0c0"/><rect x="653" y="749" width="1" height="2" fill="#c0c0c0"/><rect x="657" y="749" width="1" height="2" fill="#c0c0c0"/><rect x="661" y="749" width="1" height="2" fill="#c0c0c0"/><rect x="665" y="750" width="1" height="2" fill="#c0c0c0"/><rect x="669" y="750" width="1" height="4" fill="#c0c0c0"/><rect x="673" y="750" width="1" height="7" fill="#c0c0c0"/><rect x="677" y="750" width="1" height="8" fill="#c0c0c0"/><rect x="681" y="750" width="1" height="8" fill="#c0c0c0"/><rect x="685" y="750" width="1" height="11" fill="#c0c0c0"/><rect x="689" y="750" width="1" height="14" fill="#c0c0c0"/><rect x="693" y="750" width="1" height="15" fill="#c0c0c0"/><rect x="697" y="750" width="1" height="15" fill="#c0c0c0"/><rect x="701" y="750" width="1" height="16" fill="#c0c0c0"/><rect x="705" y="750" width="1" height="18" fill="#c0c0c0"/><rect x="709" y="750" width="1" height="18" fill="#c0c0c0"/><rect x="713" y="750" width="1" height="18" fill="#c0c0c0"/><rect x="717" y="750" width="1" height="18" fill="#c0c0c0"/><rect x="721" y="750" width="1" height="20" fill="#c0c0c0"/><rect x="725" y="750" width="1" height="21" fill="#c0c0c0"/><rect x="729" y="750" width="1" height="23" fill="#c0c0c0"/><rect x="733" y="750" width="1" height="23" fill="#c0c0c0"/><rect x="737" y="750" width="1" height="22" fill="#c0c0c0"/><rect x="741" y="750" width="1" height="23" fill="#c0c0c0"/><rect x="745" y="750" width="1" height="23" fill="#c0c0c0"/><rect x="749" y="750" width="1" height="18" fill="#c0c0c0"/><rect x="753" y="750" width="1" height="15" fill="#c0c0c0"/><rect x="757" y="750" width="1" height="12" fill="#c0c0c0"/><rect x="761" y="750" width="1" height="11" fill="#c0c0c0"/><rect x="765" y="750" width="1" height="12" fill="#c0c0c0"/><rect x="769" y="750" width="1" height="13" fill="#c0c0c0"/><rect x="773" y="750" width="1" height="13" fill="#c0c0c0"/><rect x="777" y="750" width="1" height="14" fill="#c0c0c0"/><rect x="781" y="750" width="1" height="14" fill="#c0c0c0"/><rect x="785" y="750" width="1" height="14" fill="#c0c0c0"/><rect x="789" y="750" width="1" height="16" fill="#c0c0c0"/><rect x="793" y="750" width="1" height="18" fill="#c0c0c0"/><rect x="797" y="750" width="1" height="22" fill="#c0c0c0"/><rect x="801" y="750" width="1" height="25" fill="#c0c0c0"/><rect x="805" y="750" width="1" height="31" fill="#c0c0c0"/><rect x="809" y="750" width="1" height="36" fill="#c0c0c0"/><rect x="813" y="750" width="1" height="41" fill="#c0c0c0"/><rect x="817" y="750" width="1" height="44" fill="#c0c0c0"/><rect x="821" y="750" width="1" height="46" fill="#c0c0c0"/><rect x="825" y="750" width="1" height="47" fill="#c0c0c0"/><rect x="829" y="750" width="1" height="49" fill="#c0c0c0"/><rect x="833" y="750" width="1" height="49" fill="#c0c0c0"/><rect x="837" y="750" width="1" height="49" fill="#c0c0c0"/><rect x="841" y="750" width="1" height="48" fill="#c0c0c0"/><rect x="845" y="750" width="1" height="45" fill="#c0c0c0"/><rect x="849" y="750" width="1" height="42" fill="#c0c0c0"/><rect x="853" y="750" width="1" height="41" fill="#c0c0c0"/><rect x="857" y="750" width="1" height="41" fill="#c0c0c0"/><rect x="861" y="750" width="1" height="41" fill="#c0c0c0"/><rect x="865" y="750" width="1" height="38" fill="#c0c0c0"/><rect x="869" y="750" width="1" height="39" fill="#c0c0c0"/><rect x="873" y="750" width="1" height="39" fill="#c0c0c0"/><rect x="877" y="750" width="1" height="39" fill="#c0c0c0"/><rect x="881" y="750" width="1" height="41" fill="#c0c0c0"/><rect x="885" y="750" width="1" height="43" fill="#c0c0c0"/><rect x="889" y="750" width="1" height="44" fill="#c0c0c0"/><rect x="893" y="750" width="1" height="43" fill="#c0c0c0"/><rect x="897" y="750" width="1" height="42" fill="#c0c0c0"/><rect x="901" y="750" width="1" height="44" fill="#c0c0c0"/><rect x="905" y="750" width="1" height="43" fill="#c0c0c0"/><rect x="909" y="750" width="1" height="43" fill="#c0c0c0"/><rect x="913" y="750" width="1" height="43" fill="#c0c0c0"/><rect x="917" y="750" width="1" height="42" fill="#c0c0c0"/><rect x="921" y="750" width="1" height="40" fill="#c0c0c0"/><rect x="925" y="750" width="1" height="39" fill="#c0c0c0"/><rect x="929" y="750" width="1" height="37" fill="#c0c0c0"/><rect x="933" y="750" width="1" height="36" fill="#c0c0c0"/><rect x="937" y="750" width="1" height="35" fill="#c0c0c0"/><rect x="941" y="750" width="1" height="35" fill="#c0c0c0"/><rect x="945" y="750" width="1" height="29" fill="#c0c0c0"/><rect x="949" y="750" width="1" height="26" fill="#c0c0c0"/><rect x="953" y="750" width="1" height="20" fill="#c0c0c0"/><rect x="957" y="750" width="1" height="16" fill="#c0c0c0"/><rect x="961" y="750" width="1" height="12" fill="#c0c0c0"/><rect x="965" y="750" width="1" height="8" fill="#c0c0c0"/><rect x="969" y="750" width="1" height="5" fill="#c0c0c0"/><rect x="973" y="748" width="1" height="3" fill="#c0c0c0"/><rect x="977" y="744" width="1" height="7" fill="#c0c0c0"/><rect x="981" y="743" width="1" height="8" fill="#c0c0c0"/><rect x="985" y="742" width="1" height="9" fill="#c0c0c0"/><rect x="989" y="741" width="1" height="10" fill="#c0c0c0"/><rect x="993" y="739" width="1" height="12" fill="#c0c0c0"/><rect x="997" y="740" width="1" height="11" fill="#c0c0c0"/><rect x="1001" y="740" width="1" height="11" fill="#c0c0c0"/><rect x="1005" y="741" width="1" height="10" fill="#c0c0c0"/><rect x="1009" y="743" width="1" height="8" fill="#c0c0c0"/><rect x="1013" y="747" width="1" height="4" fill="#c0c0c0"/><rect x="1017" y="749" width="1" height="2" fill="#c0c0c0"/><rect x="1021" y="750" width="1" height="8" fill="#c0c0c0"/><rect x="1025" y="750" width="1" height="14" fill="#c0c0c0"/><rect x="1029" y="750" width="1" height="17" fill="#c0c0c0"/><rect x="1033" y="750" width="1" height="19" fill="#c0c0c0"/><rect x="1037" y="750" width="1" height="19" fill="#c0c0c0"/><rect x="1041" y="750" width="1" height="17" fill="#c0c0c0"/><rect x="1045" y="750" width="1" height="18" fill="#c0c0c0"/><rect x="1049" y="750" width="1" height="19" fill="#c0c0c0"/><rect x="1053" y="750" width="1" height="21" fill="#c0c0c0"/><rect x="1057" y="750" width="1" height="22" fill="#c0c0c0"/><rect x="1061" y="750" width="1" height="19" fill="#c0c0c0"/><rect x="1065" y="750" width="1" height="15" fill="#c0c0c0"/><rect x="1069" y="750" width="1" height="13" fill="#c0c0c0"/><rect x="1073" y="750" width="1" height="8" fill="#c0c0c0"/><rect x="1077" y="750" width="1" height="6" fill="#c0c0c0"/><rect x="1081" y="750" width="1" height="5" fill="#c0c0c0"/><rect x="1085" y="750" width="1" height="1" fill="#c0c0c0"/><rect x="1089" y="748" width="1" height="3" fill="#c0c0c0"/><rect x="1093" y="745" width="1" height="6" fill="#c0c0c0"/><rect x="1097" y="742" width="1" height="9" fill="#c0c0c0"/><rect x="1101" y="740" width="1" height="11" fill="#c0c0c0"/><rect x="1105" y="739" width="1" height="12" fill="#c0c0c0"/><rect x="1109" y="742" width="1" height="9" fill="#c0c0c0"/><rect x="1113" y="744" width="1" height="7" fill="#c0c0c0"/><rect x="1117" y="744" width="1" height="7" fill="#c0c0c0"/><rect x="1121" y="743" width="1" height="8" fill="#c0c0c0"/><rect x="1125" y="743" width="1" height="8" fill="#c0c0c0"/><rect x="1129" y="744" width="1" height="7" fill="#c0c0c0"/><rect x="1133" y="744" width="1" height="7" fill="#c0c0c0"/><rect x="1137" y="745" width="1" height="6" fill="#c0c0c0"/><rect x="1141" y="747" width="1" height="4" fill="#c0c0c0"/><rect x="1145" y="748" width="1" height="3" fill="#c0c0c0"/><rect x="1149" y="749" width="1" height="2" fill="#c0c0c0"/><rect x="1153" y="750" width="1" height="2" fill="#c0c0c0"/><rect x="1157" y="750" width="1" height="1" fill="#c0c0c0"/><rect x="1161" y="749" width="1" height="2" fill="#c0c0c0"/><rect x="1165" y="749" width="1" height="2" fill="#c0c0c0"/><rect x="1169" y="749" width="1" height="2" fill="#c0c0c0"/><rect x="1173" y="750" width="1" height="2" fill="#c0c0c0"/><rect x="1177" y="750" width="1" height="2" fill="#c0c0c0"/><rect x="1181" y="750" width="1" height="6" fill="#c0c0c0"/><rect x="1185" y="750" width="1" height="9" fill="#c0c0c0"/><rect x="1189" y="750" width="1" height="13" fill="#c0c0c0"/><rect x="1193" y="750" width="1" height="14" fill="#c0c0c0"/><rect x="1197" y="750" width="1" height="14" fill="#c0c0c0"/><rect x="1201" y="750" width="1" height="15" fill="#c0c0c0"/><rect x="1205" y="750" width="1" height="15" fill="#c0c0c0"/><rect x="1209" y="750" width="1" height="14" fill="#c0c0c0"/><rect x="1213" y="750" width="1" height="14" fill="#c0c0c0"/><rect x="1217" y="750" width="1" height="16" fill="#c0c0c0"/><rect x="1221" y="750" width="1" height="18" fill="#c0c0c0"/><rect x="1225" y="750" width="1" height="19" fill="#c0c0c0"/><rect x="1229" y="750" width="1" height="25" fill="#c0c0c0"/><rect x="1233" y="750" width="1" height="27" fill="#c0c0c0"/><rect x="1237" y="750" width="1" height="32" fill="#c0c0c0"/><rect x="1241" y="750" width="1" height="35" fill="#c0c0c0"/><rect x="1245" y="750" width="1" height="37" fill="#c0c0c0"/><rect x="1249" y="750" width="1" height="40" fill="#c0c0c0"/><rect x="1253" y="750" width="1" height="44" fill="#c0c0c0"/><rect x="1257" y="750" width="1" height="46" fill="#c0c0c0"/><rect x="1261" y="750" width="1" height="48" fill="#c0c0c0"/><rect x="1265" y="750" width="1" height="47" fill="#c0c0c0"/><rect x="1269" y="750" width="1" height="43" fill="#c0c0c0"/><rect x="1273" y="750" width="1" height="39" fill="#c0c0c0"/><rect x="1277" y="750" width="1" height="40" fill="#c0c0c0"/><rect x="1281" y="750" width="1" height="41" fill="#c0c0c0"/><rect x="1285" y="750" width="1" height="42" fill="#c0c0c0"/><rect x="1289" y="750" width="1" height="40" fill="#c0c0c0"/><rect x="1293" y="750" width="1" height="36" fill="#c0c0c0"/><rect x="1297" y="750" width="1" height="36" fill="#c0c0c0"/><rect x="1301" y="750" width="1" height="33" fill="#c0c0c0"/></g>
<path d="M563.5 770v2M971.5 767v2M379 710.5h3M385 710.5h3M391 710.5h3M373 711.5h3M397 711.5h1M367 712.5h3M398 712.5h2M361 713.5h3M357 714.5h1M403 714.5h3M355 715.5h2M109 717.5h3M115 717.5h3M349 717.5h3M409 717.5h1M121 718.5h2M410 718.5h2M105 719.5h1M123 719.5h1M345 719.5h1M103 720.5h2M127 720.5h1M343 720.5h2M128 721.5h2M415 721.5h1M339 722.5h1M416 722.5h1M98 723.5h2M133 723.5h1M337 723.5h2M417 723.5h1M97 724.5h1M134 724.5h2M333 724.5h1M331 725.5h2M139 727.5h2M325 727.5h3M421 727.5h1M93 728.5h1M141 728.5h1M277 728.5h3M283 728.5h3M289 728.5h2M320 728.5h2M422 728.5h1M92 729.5h1M271 729.5h3M291 729.5h1M295 729.5h3M301 729.5h3M307 729.5h3M313 729.5h3M319 729.5h1M423 729.5h1M91 730.5h1M265 730.5h3M145 731.5h1M260 731.5h2M146 732.5h2M259 732.5h1M253 733.5h3M426 733.5h1M87 734.5h1M427 734.5h1M86 735.5h1M151 735.5h2M248 735.5h2M428 735.5h1M85 736.5h1M153 736.5h1M247 736.5h1M1 737.5h2M243 737.5h1M3 738.5h1M157 738.5h1M241 738.5h2M7 739.5h3M158 739.5h1M431 739.5h1M13 740.5h2M81 740.5h1M159 740.5h1M237 740.5h1M432 740.5h1M15 741.5h1M80 741.5h1M235 741.5h2M433 741.5h1M19 742.5h3M79 742.5h1M1005 742.5h3M1011 742.5h3M1125 742.5h3M1131 742.5h3M25 743.5h1M163 743.5h2M231 743.5h1M1001 743.5h1M1017 743.5h2M1120 743.5h2M1137 743.5h2M26 744.5h2M165 744.5h1M229 744.5h2M999 744.5h2M1019 744.5h1M1119 744.5h1M1139 744.5h1M75 745.5h1M225 745.5h1M437 745.5h1M1113 745.5h3M1143 745.5h3M1149 745.5h2M31 746.5h3M74 746.5h1M223 746.5h2M438 746.5h1M1023 746.5h2M1109 746.5h1M1151 746.5h1M37 747.5h1M73 747.5h1M169 747.5h1M439 747.5h1M610 747.5h1M646 747.5h3M652 747.5h3M658 747.5h3M994 747.5h2M1025 747.5h1M1107 747.5h2M1155 747.5h3M1161 747.5h2M38 748.5h2M170 748.5h1M219 748.5h1M600 748.5h1M604 748.5h3M611 748.5h2M616 748.5h3M622 748.5h3M628 748.5h3M634 748.5h3M640 748.5h3M664 748.5h3M670 748.5h1M993 748.5h1M1163 748.5h1M69 749.5h1M171 749.5h1M217 749.5h2M592 749.5h3M598 749.5h2M671 749.5h2M1103 749.5h1M1167 749.5h3M1173 749.5h2M43 750.5h3M67 750.5h2M1029 750.5h1M1101 750.5h2M1175 750.5h1M49 751.5h2M175 751.5h1M213 751.5h1M443 751.5h1M587 751.5h2M676 751.5h3M989 751.5h1M1030 751.5h1M1179 751.5h3M51 752.5h1M61 752.5h3M176 752.5h2M211 752.5h2M444 752.5h1M586 752.5h1M682 752.5h1M988 752.5h1M1031 752.5h1M1185 752.5h2M55 753.5h3M445 753.5h1M683 753.5h2M987 753.5h1M1097 753.5h1M1187 753.5h1M181 754.5h1M207 754.5h1M581 754.5h2M1096 754.5h1M1191 754.5h3M182 755.5h2M205 755.5h2M580 755.5h1M688 755.5h2M1035 755.5h2M1095 755.5h1M199 756.5h3M690 756.5h1M982 756.5h2M1037 756.5h1M1197 756.5h2M187 757.5h3M193 757.5h3M449 757.5h1M694 757.5h1M981 757.5h1M1199 757.5h1M450 758.5h1M576 758.5h1M695 758.5h2M1090 758.5h2M1203 758.5h1M451 759.5h1M575 759.5h1M1041 759.5h1M1089 759.5h1M1204 759.5h2M574 760.5h1M700 760.5h3M1042 760.5h2M1209 760.5h1M455 761.5h1M977 761.5h1M1085 761.5h1M1210 761.5h2M456 762.5h2M706 762.5h2M780 762.5h1M784 762.5h3M790 762.5h1M976 762.5h1M1083 762.5h2M570 763.5h1M708 763.5h1M778 763.5h2M791 763.5h2M975 763.5h1M1047 763.5h2M1215 763.5h3M461 764.5h1M569 764.5h1M712 764.5h3M772 764.5h3M796 764.5h3M1049 764.5h1M1079 764.5h1M1221 764.5h3M462 765.5h2M568 765.5h1M718 765.5h1M1077 765.5h2M1227 765.5h1M719 766.5h2M767 766.5h2M802 766.5h1M1053 766.5h2M1072 766.5h2M1228 766.5h2M724 767.5h3M766 767.5h1M803 767.5h2M1055 767.5h1M1071 767.5h1M1233 767.5h1M467 768.5h2M730 768.5h3M760 768.5h3M1059 768.5h3M1065 768.5h3M1234 768.5h2M469 769.5h1M564 769.5h1M736 769.5h3M756 769.5h1M970 769.5h1M742 770.5h3M748 770.5h3M754 770.5h2M808 770.5h2M1239 770.5h1M810 771.5h1M1240 771.5h2M473 772.5h1M966 772.5h1M474 773.5h1M965 773.5h1M475 774.5h1M814 774.5h1M964 774.5h1M1245 774.5h1M559 775.5h1M815 775.5h2M1246 775.5h1M558 776.5h1M1247 776.5h1M479 777.5h2M557 777.5h1M960 777.5h1M481 778.5h1M958 778.5h2M820 779.5h1M1251 779.5h2M553 780.5h1M821 780.5h1M1253 780.5h1M485 781.5h1M552 781.5h1M822 781.5h1M954 781.5h1M486 782.5h1M551 782.5h1M953 782.5h1M487 783.5h1M952 783.5h1M1257 783.5h1M1258 784.5h1M546 785.5h2M826 785.5h1M947 785.5h2M1259 785.5h1M491 786.5h2M545 786.5h1M827 786.5h2M946 786.5h1M493 787.5h1M541 788.5h1M940 788.5h3M1263 788.5h2M1300 788.5h2M539 789.5h2M832 789.5h1M876 789.5h1M880 789.5h3M886 789.5h1M936 789.5h1M1265 789.5h1M1299 789.5h1M497 790.5h1M833 790.5h1M874 790.5h2M887 790.5h2M892 790.5h3M898 790.5h3M928 790.5h3M934 790.5h2M1269 790.5h2M1295 790.5h1M498 791.5h1M533 791.5h3M834 791.5h1M904 791.5h3M910 791.5h1M924 791.5h1M1271 791.5h1M1293 791.5h2M499 792.5h1M528 792.5h2M868 792.5h3M911 792.5h2M916 792.5h3M922 792.5h2M1275 792.5h3M1281 792.5h3M1287 792.5h3M527 793.5h1M864 793.5h1M503 794.5h1M521 794.5h3M838 794.5h2M862 794.5h2M504 795.5h2M509 795.5h3M515 795.5h3M840 795.5h1M852 795.5h1M856 795.5h3M844 796.5h3M850 796.5h2" fill="none" stroke="#ff0000" stroke-width="1" shape-rendering="crispEdges"/>
<rect x="0" y="26" width="1" height="568" fill="#000"/>
<rect x="0" y="26" width="1638" height="1" fill="#000"/>
<rect x="0" y="593" width="1638" height="1" fill="#000"/>
<rect x="0" y="595" width="1638" height="1" fill="#000"/>
<rect x="0" y="595" width="1" height="105" fill="#000"/>
<rect x="0" y="699" width="1638" height="1" fill="#000"/>
<rect x="0" y="701" width="1638" height="1" fill="#000"/>
<rect x="0" y="701" width="1" height="104" fill="#000"/>
<rect x="0" y="804" width="1638" height="1" fill="#000"/>
<rect x="1637" y="26" width="1" height="779" fill="#000"/>
<rect x="1637" y="594" width="1" height="1" fill="#fff"/>
<rect x="1637" y="700" width="1" height="1" fill="#fff"/>
<rect x="1" y="89" width="1638" height="2" fill="#ff0000"/>
<rect x="1" y="206" width="1638" height="2" fill="#ff0000"/>
<rect x="1" y="354" width="1638" height="2" fill="#00ff00"/>
<rect x="1" y="477" width="1638" height="2" fill="#0000ff"/>
<polygon points="1304,27 1314,27 1309,32" fill="#c0c0c0"/>
<rect x="1638" y="29" width="2" height="1" fill="#000"/>
<text class="c" x="1643" y="33" fill="#000" stroke="#000" font-size="9.6" letter-spacing="-0.15">0.70525</text>
<rect x="1638" y="62" width="2" height="1" fill="#000"/>
<text class="c" x="1643" y="66" fill="#000" stroke="#000" font-size="9.6" letter-spacing="-0.15">0.70245</text>
<rect x="1638" y="95" width="2" height="1" fill="#000"/>
<text class="c" x="1643" y="99" fill="#000" stroke="#000" font-size="9.6" letter-spacing="-0.15">0.69965</text>
<rect x="1638" y="128" width="2" height="1" fill="#000"/>
<text class="c" x="1643" y="132" fill="#000" stroke="#000" font-size="9.6" letter-spacing="-0.15">0.69685</text>
<rect x="1638" y="161" width="2" height="1" fill="#000"/>
<text class="c" x="1643" y="165" fill="#000" stroke="#000" font-size="9.6" letter-spacing="-0.15">0.69400</text>
<rect x="1638" y="194" width="2" height="1" fill="#000"/>
<text class="c" x="1643" y="198" fill="#000" stroke="#000" font-size="9.6" letter-spacing="-0.15">0.69120</text>
<rect x="1638" y="227" width="2" height="1" fill="#000"/>
<text class="c" x="1643" y="231" fill="#000" stroke="#000" font-size="9.6" letter-spacing="-0.15">0.68840</text>
<rect x="1638" y="260" width="2" height="1" fill="#000"/>
<text class="c" x="1643" y="264" fill="#000" stroke="#000" font-size="9.6" letter-spacing="-0.15">0.68560</text>
<rect x="1638" y="293" width="2" height="1" fill="#000"/>
<text class="c" x="1643" y="297" fill="#000" stroke="#000" font-size="9.6" letter-spacing="-0.15">0.68280</text>
<rect x="1638" y="326" width="2" height="1" fill="#000"/>
<text class="c" x="1643" y="330" fill="#000" stroke="#000" font-size="9.6" letter-spacing="-0.15">0.67995</text>
<rect x="1638" y="359" width="2" height="1" fill="#000"/>
<text class="c" x="1643" y="363" fill="#000" stroke="#000" font-size="9.6" letter-spacing="-0.15">0.67715</text>
<rect x="1638" y="392" width="2" height="1" fill="#000"/>
<text class="c" x="1643" y="396" fill="#000" stroke="#000" font-size="9.6" letter-spacing="-0.15">0.67435</text>
<rect x="1638" y="425" width="2" height="1" fill="#000"/>
<text class="c" x="1643" y="429" fill="#000" stroke="#000" font-size="9.6" letter-spacing="-0.15">0.67155</text>
<rect x="1638" y="458" width="2" height="1" fill="#000"/>
<text class="c" x="1643" y="462" fill="#000" stroke="#000" font-size="9.6" letter-spacing="-0.15">0.66875</text>
<rect x="1638" y="491" width="2" height="1" fill="#000"/>
<text class="c" x="1643" y="495" fill="#000" stroke="#000" font-size="9.6" letter-spacing="-0.15">0.66590</text>
<rect x="1638" y="524" width="2" height="1" fill="#000"/>
<text class="c" x="1643" y="528" fill="#000" stroke="#000" font-size="9.6" letter-spacing="-0.15">0.66310</text>
<rect x="1638" y="557" width="2" height="1" fill="#000"/>
<text class="c" x="1643" y="561" fill="#000" stroke="#000" font-size="9.6" letter-spacing="-0.15">0.66030</text>
<rect x="1638" y="590" width="2" height="1" fill="#000"/>
<text class="c" x="1643" y="594" fill="#000" stroke="#000" font-size="9.6" letter-spacing="-0.15">0.65750</text>
<rect x="1639" y="84" width="41" height="11" fill="#ff0000"/>
<text class="c" x="1643" y="93" fill="#fff" stroke="#fff" font-size="9.6" letter-spacing="-0.15">0.70007</text>
<rect x="1639" y="201" width="41" height="11" fill="#ff0000"/>
<text class="c" x="1643" y="210" fill="#fff" stroke="#fff" font-size="9.6" letter-spacing="-0.15">0.69010</text>
<rect x="1639" y="349" width="41" height="11" fill="#00ff00"/>
<text class="c" x="1643" y="358" fill="#fff" stroke="#fff" font-size="9.6" letter-spacing="-0.15">0.67754</text>
<rect x="1639" y="472" width="41" height="11" fill="#0000ff"/>
<text class="c" x="1643" y="481" fill="#fff" stroke="#fff" font-size="9.6" letter-spacing="-0.15">0.66706</text>
<rect x="1639" y="538" width="41" height="11" fill="#000"/>
<text class="c" x="1643" y="547" fill="#fff" stroke="#fff" font-size="9.6" letter-spacing="-0.15">0.66151</text>
<rect x="1638" y="597" width="2" height="1" fill="#000"/>
<text class="c" x="1641.2" y="606" fill="#000" stroke="#000" font-size="9.6" letter-spacing="-0.15">100</text>
<rect x="1638" y="627" width="2" height="1" fill="#000"/>
<text class="c" x="1641.2" y="631" fill="#000" stroke="#000" font-size="9.6" letter-spacing="-0.15">70</text>
<rect x="1638" y="668" width="2" height="1" fill="#000"/>
<text class="c" x="1641.2" y="672" fill="#000" stroke="#000" font-size="9.6" letter-spacing="-0.15">30</text>
<rect x="1638" y="698" width="2" height="1" fill="#000"/>
<text class="c" x="1641.2" y="696" fill="#000" stroke="#000" font-size="9.6" letter-spacing="-0.15">0</text>
<rect x="1638" y="703" width="2" height="1" fill="#000"/>
<text class="c" x="1641.2" y="712" fill="#000" stroke="#000" font-size="9.6" letter-spacing="-0.15">0.002817</text>
<rect x="1638" y="750" width="2" height="1" fill="#000"/>
<text class="c" x="1641.2" y="754" fill="#000" stroke="#000" font-size="9.6" letter-spacing="-0.15">0.00</text>
<rect x="1638" y="804" width="2" height="1" fill="#000"/>
<text class="c" x="1641.2" y="801" fill="#000" stroke="#000" font-size="9.6" letter-spacing="-0.15">-0.003179</text>
<polygon points="4,33 11,33 7.5,36.5" fill="#000"/>
<text class="c" x="16.6" y="38" fill="#000" stroke="#000" font-size="9.6" letter-spacing="0.12">AUDUSD,H4</text>
<text class="c" x="77.8" y="38" fill="#000" stroke="#000" font-size="9.6" letter-spacing="-0.2">0.65968 0.66166 0.65963 0.66151</text>
<text class="c" x="5" y="608" fill="#000" stroke="#000" font-size="9.6" letter-spacing="-0.15">RSI(14) 44.5543</text>
<text class="c" x="5" y="714" fill="#000" stroke="#000" font-size="9.6" letter-spacing="-0.15">MACD(12,26,9) -0.001910 -0.002269</text>
<rect x="1" y="805" width="1" height="3" fill="#000"/>
<text class="c" x="0" y="817" fill="#000" stroke="#000" font-size="9.6" letter-spacing="-0.15">9 Dec 2019</text>
<rect x="65" y="805" width="1" height="3" fill="#000"/>
<text class="c" x="64" y="817" fill="#000" stroke="#000" font-size="9.6" letter-spacing="-0.15">12 Dec 00:00</text>
<rect x="129" y="805" width="1" height="3" fill="#000"/>
<text class="c" x="128" y="817" fill="#000" stroke="#000" font-size="9.6" letter-spacing="-0.15">16 Dec 19:00</text>
<rect x="193" y="805" width="1" height="3" fill="#000"/>
<text class="c" x="192" y="817" fill="#000" stroke="#000" font-size="9.6" letter-spacing="-0.15">19 Dec 10:00</text>
<rect x="257" y="805" width="1" height="3" fill="#000"/>
<text class="c" x="256" y="817" fill="#000" stroke="#000" font-size="9.6" letter-spacing="-0.15">24 Dec 00:00</text>
<rect x="321" y="805" width="1" height="3" fill="#000"/>
<text class="c" x="320" y="817" fill="#000" stroke="#000" font-size="9.6" letter-spacing="-0.15">27 Dec 14:00</text>
<rect x="385" y="805" width="1" height="3" fill="#000"/>
<text class="c" x="384" y="817" fill="#000" stroke="#000" font-size="9.6" letter-spacing="-0.15">1 Jan 04:00</text>
<rect x="449" y="805" width="1" height="3" fill="#000"/>
<text class="c" x="448" y="817" fill="#000" stroke="#000" font-size="9.6" letter-spacing="-0.15">6 Jan 19:00</text>
<rect x="513" y="805" width="1" height="3" fill="#000"/>
<text class="c" x="512" y="817" fill="#000" stroke="#000" font-size="9.6" letter-spacing="-0.15">9 Jan 11:00</text>
<rect x="577" y="805" width="1" height="3" fill="#000"/>
<text class="c" x="576" y="817" fill="#000" stroke="#000" font-size="9.6" letter-spacing="-0.15">14 Jan 00:00</text>
<rect x="641" y="805" width="1" height="3" fill="#000"/>
<text class="c" x="640" y="817" fill="#000" stroke="#000" font-size="9.6" letter-spacing="-0.15">16 Jan 19:00</text>
<rect x="705" y="805" width="1" height="3" fill="#000"/>
<text class="c" x="704" y="817" fill="#000" stroke="#000" font-size="9.6" letter-spacing="-0.15">21 Jan 11:00</text>
<rect x="769" y="805" width="1" height="3" fill="#000"/>
<text class="c" x="768" y="817" fill="#000" stroke="#000" font-size="9.6" letter-spacing="-0.15">24 Jan 00:00</text>
<rect x="833" y="805" width="1" height="3" fill="#000"/>
<text class="c" x="832" y="817" fill="#000" stroke="#000" font-size="9.6" letter-spacing="-0.15">28 Jan 19:00</text>
<rect x="897" y="805" width="1" height="3" fill="#000"/>
<text class="c" x="896" y="817" fill="#000" stroke="#000" font-size="9.6" letter-spacing="-0.15">31 Jan 11:00</text>
<rect x="961" y="805" width="1" height="3" fill="#000"/>
<text class="c" x="960" y="817" fill="#000" stroke="#000" font-size="9.6" letter-spacing="-0.15">5 Feb 00:00</text>
<rect x="1025" y="805" width="1" height="3" fill="#000"/>
<text class="c" x="1024" y="817" fill="#000" stroke="#000" font-size="9.6" letter-spacing="-0.15">7 Feb 19:00</text>
<rect x="1089" y="805" width="1" height="3" fill="#000"/>
<text class="c" x="1088" y="817" fill="#000" stroke="#000" font-size="9.6" letter-spacing="-0.15">12 Feb 11:00</text>
<rect x="1153" y="805" width="1" height="3" fill="#000"/>
<text class="c" x="1152" y="817" fill="#000" stroke="#000" font-size="9.6" letter-spacing="-0.15">15 Feb 00:00</text>
<rect x="1217" y="805" width="1" height="3" fill="#000"/>
<text class="c" x="1216" y="817" fill="#000" stroke="#000" font-size="9.6" letter-spacing="-0.15">19 Feb 19:00</text>
<rect x="1281" y="805" width="1" height="3" fill="#000"/>
<text class="c" x="1280" y="817" fill="#000" stroke="#000" font-size="9.6" letter-spacing="-0.15">24 Feb 11:00</text>
<!-- bottom tab bar -->
<rect x="0" y="825" width="1682" height="1" fill="#e3e3e3"/>
<rect x="0" y="828" width="1682" height="19" fill="#f0f0f0"/>
<rect x="0" y="847" width="1682" height="1" fill="#fcfcfc"/>
<rect x="0" y="848" width="1682" height="2" fill="#ececec"/>
<rect x="0" y="827" width="1682" height="1" fill="#000"/>
<rect x="207" y="827" width="90" height="19" fill="#fff"/>
<rect x="206" y="827" width="1" height="19" fill="#000"/>
<rect x="297" y="827" width="1" height="19" fill="#000"/>
<rect x="206" y="845" width="92" height="1" fill="#000"/>
<text x="14" y="842" fill="#7a7a7a" font-size="12">EURUSD,Daily</text>
<text x="116" y="842" fill="#7a7a7a" font-size="12">USDCHF,Daily</text>
<text x="217.5" y="842" fill="#000" font-size="12">AUDUSD,H4</text>
<text x="309" y="842" fill="#7a7a7a" font-size="12">USDCAD,Daily</text>
<text x="412.5" y="842" fill="#7a7a7a" font-size="12">USDCNH,Daily</text>
<text x="518" y="842" fill="#7a7a7a" font-size="12">EURUSD,Daily</text>
<text x="622" y="842" fill="#7a7a7a" font-size="12">GBPUSD,Daily</text>
<text x="726" y="842" fill="#7a7a7a" font-size="12">XAUUSD,M5</text>
<text x="821.5" y="842" fill="#7a7a7a" font-size="12">HK50,H1</text>
<text x="893" y="842" fill="#7a7a7a" font-size="12">UK100,Daily</text>
<rect x="105" y="830" width="1" height="14" fill="#6d6d6d"/>
<rect x="402" y="830" width="1" height="14" fill="#6d6d6d"/>
<rect x="506" y="830" width="1" height="14" fill="#6d6d6d"/>
<rect x="610" y="830" width="1" height="14" fill="#6d6d6d"/>
<rect x="714" y="830" width="1" height="14" fill="#6d6d6d"/>
<rect x="810" y="830" width="1" height="14" fill="#6d6d6d"/>
<rect x="882" y="830" width="1" height="14" fill="#6d6d6d"/>
<rect x="974" y="830" width="1" height="14" fill="#6d6d6d"/>
<polygon points="1657,833 1657,840 1653,836.5" fill="#9a9a9a"/>
<polygon points="1672,833 1672,840 1676,836.5" fill="#9a9a9a"/>
</svg>
</body></html>
